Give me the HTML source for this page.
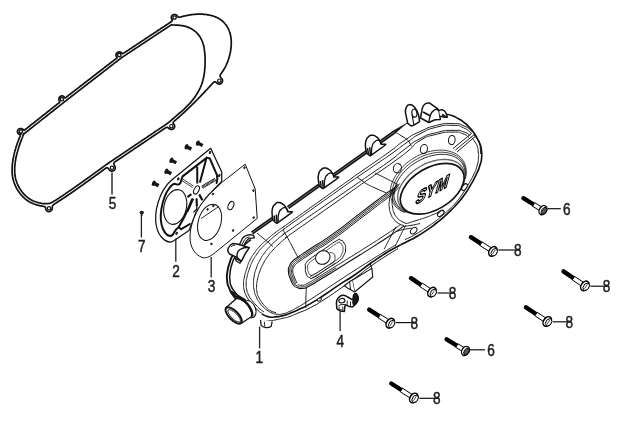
<!DOCTYPE html>
<html><head><meta charset="utf-8"><title>diagram</title>
<style>
html,body{margin:0;padding:0;background:#fff;}
svg{display:block;font-family:"Liberation Sans",sans-serif;filter:grayscale(1);}
</style></head><body>
<svg width="635" height="439" viewBox="0 0 635 439">
<rect width="635" height="439" fill="#fff"/>
<path d="M21.6,132.4 L21.0,132.9 L20.5,133.3 L20.1,133.6 L19.7,133.9 L19.5,134.0 L19.3,134.1 L19.1,134.2 L18.9,134.1 L18.7,134.0 L18.5,133.8 L18.3,133.6 L18.3,133.6 L17.9,133.1 L17.6,132.5 L17.4,131.9 L17.4,131.2 L17.6,130.6 L17.9,130.1 L18.3,129.6 L18.8,129.1 L19.4,128.8 L20.1,128.6 L20.8,128.6 L21.5,128.7 L22.2,128.9 L22.8,129.2 L23.3,129.6 L23.3,129.6 L23.5,129.9 L23.7,130.0 L23.9,130.2 L24.1,130.2 L24.2,130.2 L24.4,130.2 L24.6,130.1 L24.8,129.9 L25.1,129.6 L25.5,129.3 L25.9,129.0 L26.3,128.7 L26.7,128.4 L27.1,128.1 L27.5,127.7 L27.9,127.4 L28.3,127.1 L28.7,126.8 L29.1,126.5 L29.5,126.2 L29.9,125.9 L30.2,125.6 L30.6,125.3 L31.0,124.9 L31.4,124.6 L31.8,124.3 L32.2,124.0 L32.6,123.7 L33.0,123.4 L33.4,123.1 L33.8,122.8 L34.2,122.5 L34.6,122.2 L35.0,121.8 L35.4,121.5 L35.7,121.2 L36.1,120.9 L36.5,120.6 L36.9,120.3 L37.3,120.0 L37.7,119.7 L38.1,119.4 L38.5,119.1 L38.9,118.7 L39.3,118.4 L39.7,118.1 L40.1,117.8 L40.5,117.5 L40.9,117.2 L41.2,116.9 L41.6,116.6 L42.0,116.3 L42.4,115.9 L42.8,115.6 L43.2,115.3 L43.6,115.0 L44.0,114.7 L44.4,114.4 L44.8,114.1 L45.2,113.8 L45.6,113.5 L46.0,113.2 L46.4,112.8 L46.7,112.5 L47.1,112.2 L47.5,111.9 L47.9,111.6 L48.3,111.3 L48.7,111.0 L49.1,110.7 L49.5,110.4 L49.9,110.0 L50.3,109.7 L50.7,109.4 L51.1,109.1 L51.5,108.8 L51.9,108.5 L52.2,108.2 L52.6,107.9 L53.0,107.6 L53.4,107.3 L53.8,106.9 L54.2,106.6 L54.6,106.3 L55.0,106.0 L55.4,105.7 L55.8,105.4 L56.2,105.1 L56.6,104.8 L57.0,104.5 L57.4,104.1 L57.7,103.8 L58.1,103.5 L58.6,103.2 L59.0,102.9 L59.3,102.7 L59.5,102.5 L59.6,102.3 L59.7,102.2 L59.8,102.0 L59.8,101.9 L59.7,101.7 L59.6,101.5 L59.4,101.2 L59.4,101.2 L59.1,100.6 L58.9,99.9 L58.9,99.2 L59.0,98.5 L59.2,97.8 L59.5,97.2 L60.0,96.7 L60.5,96.3 L61.1,96.0 L61.7,95.8 L62.3,95.9 L63.0,96.0 L63.5,96.3 L64.0,96.7 L64.4,97.2 L64.4,97.2 L64.6,97.5 L64.7,97.7 L64.9,97.9 L65.0,97.9 L65.1,98.0 L65.3,97.9 L65.5,97.8 L65.7,97.6 L66.0,97.4 L66.4,97.1 L66.8,96.7 L67.2,96.4 L67.6,96.1 L68.0,95.8 L68.4,95.5 L68.8,95.2 L69.2,94.9 L69.6,94.6 L70.0,94.3 L70.4,94.0 L70.8,93.7 L71.2,93.4 L71.6,93.1 L72.0,92.8 L72.4,92.5 L72.8,92.1 L73.2,91.8 L73.5,91.5 L73.9,91.2 L74.3,90.9 L74.7,90.6 L75.1,90.3 L75.5,90.0 L75.9,89.7 L76.3,89.4 L76.7,89.1 L77.1,88.8 L77.5,88.5 L77.9,88.2 L78.3,87.9 L78.7,87.5 L79.1,87.2 L79.5,86.9 L79.9,86.6 L80.3,86.3 L80.7,86.0 L81.1,85.7 L81.5,85.4 L81.9,85.1 L82.3,84.8 L82.7,84.5 L83.1,84.2 L83.4,83.9 L83.8,83.6 L84.2,83.3 L84.6,83.0 L85.0,82.6 L85.4,82.3 L85.8,82.0 L86.2,81.7 L86.6,81.4 L87.0,81.1 L87.4,80.8 L87.8,80.5 L88.2,80.2 L88.6,79.9 L89.0,79.6 L89.4,79.3 L89.8,79.0 L90.2,78.7 L90.6,78.4 L91.0,78.1 L91.4,77.7 L91.8,77.4 L92.2,77.1 L92.6,76.8 L93.0,76.5 L93.4,76.2 L93.7,75.9 L94.1,75.6 L94.5,75.3 L94.9,75.0 L95.3,74.7 L95.7,74.4 L96.1,74.1 L96.5,73.8 L96.9,73.5 L97.3,73.1 L97.7,72.8 L98.1,72.5 L98.5,72.2 L98.9,71.9 L99.3,71.6 L99.7,71.3 L100.1,71.0 L100.5,70.7 L100.9,70.4 L101.3,70.1 L101.7,69.8 L102.1,69.5 L102.5,69.2 L102.9,68.9 L103.3,68.6 L103.6,68.2 L104.0,67.9 L104.4,67.6 L104.8,67.3 L105.2,67.0 L105.6,66.7 L106.0,66.4 L106.4,66.1 L106.8,65.8 L107.2,65.5 L107.6,65.2 L108.0,64.9 L108.4,64.6 L108.8,64.3 L109.2,64.0 L109.6,63.7 L110.0,63.3 L110.4,63.0 L110.8,62.7 L111.2,62.4 L111.6,62.1 L112.0,61.8 L112.4,61.5 L112.8,61.2 L113.2,60.9 L113.6,60.6 L113.9,60.3 L114.3,60.0 L114.7,59.7 L115.1,59.4 L115.5,59.1 L116.0,58.7 L116.4,58.4 L116.7,58.2 L116.9,58.0 L117.0,57.8 L117.1,57.7 L117.2,57.6 L117.1,57.5 L117.1,57.3 L116.9,57.1 L116.7,56.9 L116.7,56.9 L116.3,56.3 L116.1,55.7 L116.0,55.1 L116.0,54.5 L116.2,53.8 L116.5,53.3 L117.0,52.8 L117.5,52.4 L118.1,52.1 L118.8,52.0 L119.5,51.9 L120.2,52.0 L120.8,52.3 L121.4,52.6 L121.9,53.1 L121.9,53.1 L122.1,53.3 L122.2,53.5 L122.4,53.6 L122.5,53.7 L122.7,53.7 L122.8,53.6 L123.0,53.5 L123.3,53.4 L123.6,53.2 L124.0,52.9 L124.5,52.6 L124.9,52.4 L125.3,52.1 L125.7,51.8 L126.1,51.5 L126.6,51.3 L127.0,51.0 L127.4,50.7 L127.8,50.4 L128.2,50.2 L128.7,49.9 L129.1,49.6 L129.5,49.3 L129.9,49.0 L130.3,48.8 L130.7,48.5 L131.2,48.2 L131.6,47.9 L132.0,47.7 L132.4,47.4 L132.8,47.1 L133.2,46.8 L133.7,46.6 L134.1,46.3 L134.5,46.0 L134.9,45.7 L135.3,45.5 L135.8,45.2 L136.2,44.9 L136.6,44.6 L137.0,44.4 L137.4,44.1 L137.8,43.8 L138.3,43.5 L138.7,43.3 L139.1,43.0 L139.5,42.7 L139.9,42.4 L140.3,42.1 L140.8,41.9 L141.2,41.6 L141.6,41.3 L142.0,41.0 L142.4,40.8 L142.9,40.5 L143.3,40.2 L143.7,39.9 L144.1,39.7 L144.5,39.4 L144.9,39.1 L145.4,38.8 L145.8,38.6 L146.2,38.3 L146.6,38.0 L147.0,37.7 L147.4,37.5 L147.9,37.2 L148.3,36.9 L148.7,36.6 L149.1,36.3 L149.5,36.1 L150.0,35.8 L150.4,35.5 L150.8,35.2 L151.2,35.0 L151.6,34.7 L152.0,34.4 L152.5,34.1 L152.9,33.9 L153.3,33.6 L153.7,33.3 L154.1,33.0 L154.6,32.8 L155.0,32.5 L155.4,32.2 L155.8,31.9 L156.2,31.7 L156.6,31.4 L157.1,31.1 L157.5,30.8 L157.9,30.5 L158.3,30.3 L158.7,30.0 L159.1,29.7 L159.6,29.4 L160.0,29.2 L160.4,28.9 L160.8,28.6 L161.2,28.3 L161.7,28.1 L162.1,27.8 L162.5,27.5 L162.9,27.2 L163.3,27.0 L163.7,26.7 L164.2,26.4 L164.6,26.1 L165.0,25.9 L165.4,25.6 L165.8,25.3 L166.2,25.0 L166.7,24.7 L167.1,24.5 L167.5,24.2 L167.9,23.9 L168.3,23.6 L168.8,23.4 L169.2,23.1 L169.6,22.8 L170.0,22.5 L170.4,22.2 L170.8,21.9 L171.3,21.6 L171.6,21.3 L171.9,21.0 L172.1,20.8 L172.3,20.6 L172.3,20.4 L172.3,20.2 L172.3,20.0 L172.2,19.7 L172.0,19.5 L171.8,19.1 L171.8,19.1 L171.5,18.5 L171.3,17.9 L171.3,17.2 L171.5,16.6 L171.7,16.0 L172.1,15.5 L172.6,15.0 L173.2,14.7 L173.9,14.5 L174.6,14.5 L175.2,14.6 L175.9,14.8 L176.5,15.1 L177.0,15.6 L177.4,16.1 L177.4,16.1 L177.6,16.4 L177.8,16.7 L178.0,16.9 L178.2,17.1 L178.3,17.2 L178.6,17.3 L178.8,17.3 L179.1,17.3 L179.5,17.2 L180.0,17.1 L180.6,17.0 L181.1,16.9 L181.5,16.7 L182.0,16.6 L182.5,16.5 L183.0,16.3 L183.5,16.2 L184.0,16.1 L184.5,16.0 L184.9,15.9 L185.4,15.8 L185.9,15.7 L186.4,15.6 L186.9,15.5 L187.4,15.4 L187.9,15.3 L188.4,15.2 L188.9,15.1 L189.4,15.0 L189.9,14.9 L190.4,14.9 L190.8,14.8 L191.3,14.7 L191.8,14.7 L192.3,14.6 L192.8,14.5 L193.3,14.5 L193.8,14.4 L194.3,14.4 L194.8,14.3 L195.3,14.3 L195.8,14.3 L196.3,14.2 L196.8,14.2 L197.3,14.2 L197.8,14.2 L198.3,14.2 L198.8,14.2 L199.3,14.1 L199.8,14.1 L200.3,14.2 L200.8,14.2 L201.3,14.2 L201.8,14.2 L202.3,14.2 L202.8,14.2 L203.3,14.3 L203.8,14.3 L204.3,14.3 L204.8,14.4 L205.3,14.4 L205.8,14.5 L206.3,14.6 L206.8,14.6 L207.3,14.7 L207.8,14.8 L208.3,14.9 L208.8,15.0 L209.3,15.1 L209.8,15.2 L210.3,15.3 L210.8,15.4 L211.2,15.5 L211.7,15.6 L212.2,15.8 L212.7,15.9 L213.2,16.0 L213.6,16.2 L214.1,16.4 L214.6,16.5 L215.1,16.7 L215.5,16.9 L216.0,17.1 L216.5,17.3 L216.9,17.5 L217.4,17.7 L217.8,17.9 L218.2,18.2 L218.7,18.4 L219.1,18.7 L219.5,18.9 L219.9,19.2 L220.4,19.5 L220.8,19.8 L221.2,20.1 L221.6,20.4 L222.0,20.7 L222.3,21.0 L222.7,21.3 L223.1,21.7 L223.5,22.0 L223.8,22.4 L224.2,22.7 L224.5,23.1 L224.8,23.5 L225.2,23.9 L225.5,24.3 L225.8,24.6 L226.1,25.0 L226.4,25.5 L226.7,25.9 L226.9,26.3 L227.2,26.7 L227.4,27.1 L227.7,27.6 L227.9,28.0 L228.2,28.5 L228.4,28.9 L228.6,29.4 L228.8,29.8 L229.0,30.3 L229.2,30.7 L229.4,31.2 L229.5,31.7 L229.7,32.2 L229.8,32.6 L230.0,33.1 L230.1,33.6 L230.2,34.1 L230.4,34.6 L230.5,35.1 L230.6,35.6 L230.7,36.0 L230.8,36.5 L230.8,37.0 L230.9,37.5 L231.0,38.0 L231.0,38.5 L231.1,39.0 L231.1,39.5 L231.2,40.0 L231.2,40.5 L231.2,41.0 L231.3,41.5 L231.3,42.0 L231.3,42.5 L231.3,43.0 L231.3,43.5 L231.3,44.0 L231.2,44.5 L231.2,45.0 L231.2,45.5 L231.2,46.0 L231.1,46.5 L231.1,47.0 L231.0,47.5 L231.0,48.0 L230.9,48.5 L230.9,49.0 L230.8,49.5 L230.7,50.0 L230.6,50.5 L230.6,51.0 L230.5,51.5 L230.4,52.0 L230.3,52.5 L230.2,53.0 L230.1,53.4 L230.0,53.9 L229.9,54.4 L229.7,54.9 L229.6,55.4 L229.5,55.9 L229.4,56.4 L229.2,56.8 L229.1,57.3 L229.0,57.8 L228.8,58.3 L228.7,58.8 L228.5,59.2 L228.4,59.7 L228.2,60.2 L228.0,60.7 L227.9,61.1 L227.7,61.6 L227.5,62.1 L227.3,62.5 L227.1,63.0 L226.9,63.5 L226.7,63.9 L226.5,64.4 L226.3,64.8 L226.1,65.3 L225.9,65.7 L225.7,66.2 L225.4,66.6 L225.2,67.1 L225.0,67.5 L224.7,68.0 L224.5,68.4 L224.2,68.8 L224.0,69.3 L223.7,69.7 L223.5,70.1 L223.2,70.5 L222.9,71.0 L222.7,71.4 L222.4,71.8 L222.1,72.2 L221.8,72.6 L221.5,73.0 L221.2,73.4 L220.8,74.0 L220.5,74.5 L220.3,75.0 L220.2,75.4 L220.1,75.9 L220.2,76.2 L220.3,76.6 L220.5,77.0 L220.8,77.4 L221.1,77.8 L221.5,78.3 L221.5,78.3 L222.0,78.8 L222.3,79.4 L222.5,80.1 L222.5,80.8 L222.4,81.5 L222.2,82.2 L221.8,82.8 L221.4,83.3 L220.8,83.7 L220.2,83.9 L219.5,84.1 L218.9,84.0 L218.2,83.9 L217.6,83.6 L217.1,83.1 L217.1,83.1 L216.6,82.7 L216.2,82.4 L215.8,82.1 L215.5,81.9 L215.1,81.8 L214.8,81.8 L214.4,81.9 L214.0,82.1 L213.6,82.4 L213.2,82.7 L212.7,83.3 L212.3,83.6 L212.0,84.0 L211.7,84.4 L211.3,84.7 L211.0,85.1 L210.7,85.5 L210.3,85.8 L210.0,86.2 L209.6,86.6 L209.3,86.9 L209.0,87.3 L208.6,87.7 L208.3,88.0 L207.9,88.4 L207.6,88.8 L207.3,89.1 L206.9,89.5 L206.6,89.9 L206.2,90.2 L205.9,90.6 L205.5,91.0 L205.2,91.3 L204.9,91.7 L204.5,92.1 L204.2,92.4 L203.8,92.8 L203.5,93.2 L203.1,93.5 L202.8,93.9 L202.4,94.2 L202.1,94.6 L201.8,95.0 L201.4,95.3 L201.1,95.7 L200.7,96.1 L200.4,96.4 L200.0,96.8 L199.7,97.1 L199.3,97.5 L199.0,97.8 L198.6,98.2 L198.3,98.6 L197.9,98.9 L197.6,99.3 L197.2,99.6 L196.9,100.0 L196.5,100.4 L196.2,100.7 L195.8,101.1 L195.5,101.4 L195.1,101.8 L194.7,102.1 L194.4,102.5 L194.0,102.8 L193.7,103.2 L193.3,103.5 L193.0,103.9 L192.6,104.2 L192.3,104.6 L191.9,104.9 L191.5,105.3 L191.2,105.6 L190.8,106.0 L190.5,106.3 L190.1,106.7 L189.7,107.0 L189.4,107.4 L189.0,107.7 L188.7,108.1 L188.3,108.4 L187.9,108.8 L187.6,109.1 L187.2,109.5 L186.8,109.8 L186.5,110.1 L186.1,110.5 L185.8,110.8 L185.4,111.2 L185.0,111.5 L184.7,111.9 L184.3,112.2 L183.9,112.5 L183.6,112.9 L183.2,113.2 L182.8,113.6 L182.4,113.9 L182.1,114.2 L181.7,114.6 L181.3,114.9 L181.0,115.2 L180.6,115.6 L180.2,115.9 L179.8,116.2 L179.5,116.6 L179.1,116.9 L178.7,117.2 L178.3,117.6 L178.0,117.9 L177.6,118.2 L177.2,118.6 L176.8,118.9 L176.5,119.2 L176.1,119.5 L175.7,119.9 L175.3,120.2 L174.9,120.5 L174.4,121.0 L174.0,121.4 L173.6,121.7 L173.4,122.1 L173.2,122.4 L173.1,122.6 L173.1,122.9 L173.2,123.2 L173.3,123.5 L173.6,123.8 L173.9,124.1 L173.9,124.1 L174.3,124.7 L174.5,125.3 L174.7,125.9 L174.6,126.6 L174.5,127.3 L174.2,127.9 L173.8,128.4 L173.2,128.9 L172.6,129.2 L171.9,129.4 L171.2,129.4 L170.5,129.3 L169.9,129.1 L169.3,128.8 L168.7,128.3 L168.7,128.3 L168.4,128.0 L168.1,127.7 L167.9,127.5 L167.6,127.4 L167.3,127.4 L167.0,127.4 L166.6,127.5 L166.2,127.6 L165.8,127.8 L165.2,128.1 L164.6,128.4 L164.2,128.7 L163.8,129.0 L163.4,129.3 L163.0,129.6 L162.6,129.8 L162.1,130.1 L161.7,130.4 L161.3,130.7 L160.9,131.0 L160.5,131.2 L160.1,131.5 L159.6,131.8 L159.2,132.1 L158.8,132.4 L158.4,132.6 L158.0,132.9 L157.6,133.2 L157.2,133.5 L156.7,133.8 L156.3,134.0 L155.9,134.3 L155.5,134.6 L155.1,134.9 L154.7,135.2 L154.2,135.4 L153.8,135.7 L153.4,136.0 L153.0,136.3 L152.6,136.5 L152.2,136.8 L151.8,137.1 L151.3,137.4 L150.9,137.7 L150.5,137.9 L150.1,138.2 L149.7,138.5 L149.3,138.8 L148.8,139.1 L148.4,139.3 L148.0,139.6 L147.6,139.9 L147.2,140.2 L146.8,140.5 L146.3,140.7 L145.9,141.0 L145.5,141.3 L145.1,141.6 L144.7,141.9 L144.3,142.1 L143.9,142.4 L143.4,142.7 L143.0,143.0 L142.6,143.3 L142.2,143.5 L141.8,143.8 L141.4,144.1 L140.9,144.4 L140.5,144.7 L140.1,144.9 L139.7,145.2 L139.3,145.5 L138.9,145.8 L138.5,146.1 L138.0,146.3 L137.6,146.6 L137.2,146.9 L136.8,147.2 L136.4,147.4 L136.0,147.7 L135.5,148.0 L135.1,148.3 L134.7,148.6 L134.3,148.8 L133.9,149.1 L133.5,149.4 L133.1,149.7 L132.6,150.0 L132.2,150.2 L131.8,150.5 L131.4,150.8 L131.0,151.1 L130.6,151.4 L130.1,151.6 L129.7,151.9 L129.3,152.2 L128.9,152.5 L128.5,152.8 L128.1,153.0 L127.7,153.3 L127.2,153.6 L126.8,153.9 L126.4,154.2 L126.0,154.4 L125.6,154.7 L125.2,155.0 L124.7,155.3 L124.3,155.6 L123.9,155.8 L123.5,156.1 L123.1,156.4 L122.7,156.7 L122.3,157.0 L121.8,157.2 L121.4,157.5 L121.0,157.8 L120.6,158.1 L120.2,158.4 L119.8,158.6 L119.3,158.9 L118.9,159.2 L118.5,159.5 L118.1,159.7 L117.7,160.0 L117.3,160.3 L116.9,160.6 L116.4,160.9 L116.0,161.1 L115.6,161.4 L115.0,161.8 L114.6,162.2 L114.2,162.6 L114.0,162.9 L113.8,163.3 L113.8,163.7 L113.8,164.1 L113.9,164.5 L114.1,164.9 L114.4,165.4 L114.7,165.9 L114.7,165.9 L115.0,166.6 L115.2,167.2 L115.3,167.9 L115.2,168.6 L114.9,169.3 L114.6,169.9 L114.1,170.4 L113.5,170.7 L112.9,171.0 L112.2,171.1 L111.5,171.1 L110.9,170.9 L110.2,170.6 L109.7,170.2 L109.3,169.7 L109.3,169.7 L108.9,169.1 L108.6,168.7 L108.3,168.4 L107.9,168.1 L107.6,167.9 L107.2,167.8 L106.9,167.8 L106.4,167.9 L106.0,168.1 L105.5,168.4 L104.9,168.9 L104.5,169.1 L104.1,169.4 L103.7,169.7 L103.3,170.0 L102.9,170.3 L102.5,170.6 L102.1,170.9 L101.7,171.2 L101.3,171.5 L100.9,171.8 L100.4,172.1 L100.0,172.4 L99.6,172.7 L99.2,173.0 L98.8,173.2 L98.4,173.5 L98.0,173.8 L97.6,174.1 L97.2,174.4 L96.8,174.7 L96.4,175.0 L96.0,175.3 L95.6,175.6 L95.2,175.9 L94.8,176.2 L94.4,176.5 L94.0,176.8 L93.5,177.1 L93.1,177.4 L92.7,177.6 L92.3,177.9 L91.9,178.2 L91.5,178.5 L91.1,178.8 L90.7,179.1 L90.3,179.4 L89.9,179.7 L89.5,180.0 L89.1,180.3 L88.7,180.6 L88.3,180.9 L87.9,181.2 L87.5,181.5 L87.0,181.7 L86.6,182.0 L86.2,182.3 L85.8,182.6 L85.4,182.9 L85.0,183.2 L84.6,183.5 L84.2,183.8 L83.8,184.1 L83.4,184.4 L83.0,184.7 L82.6,185.0 L82.2,185.2 L81.8,185.5 L81.3,185.8 L80.9,186.1 L80.5,186.4 L80.1,186.7 L79.7,187.0 L79.3,187.3 L78.9,187.6 L78.5,187.9 L78.1,188.1 L77.7,188.4 L77.3,188.7 L76.9,189.0 L76.4,189.3 L76.0,189.6 L75.6,189.9 L75.2,190.2 L74.8,190.4 L74.4,190.7 L74.0,191.0 L73.6,191.3 L73.2,191.6 L72.7,191.9 L72.3,192.2 L71.9,192.4 L71.5,192.7 L71.1,193.0 L70.7,193.3 L70.3,193.6 L69.9,193.9 L69.5,194.2 L69.0,194.4 L68.6,194.7 L68.2,195.0 L67.8,195.3 L67.4,195.6 L67.0,195.8 L66.6,196.1 L66.1,196.4 L65.7,196.7 L65.3,197.0 L64.9,197.2 L64.5,197.5 L64.1,197.8 L63.6,198.1 L63.2,198.3 L62.8,198.6 L62.4,198.9 L62.0,199.2 L61.5,199.4 L61.1,199.7 L60.7,200.0 L60.3,200.3 L59.9,200.5 L59.4,200.8 L59.0,201.1 L58.6,201.3 L58.2,201.6 L57.8,201.9 L57.3,202.1 L56.9,202.4 L56.5,202.7 L56.1,202.9 L55.6,203.2 L55.2,203.5 L54.8,203.7 L54.2,204.2 L53.7,204.6 L53.3,205.0 L53.0,205.3 L52.7,205.6 L52.5,205.9 L52.4,206.3 L52.3,206.6 L52.2,207.0 L52.2,207.4 L52.3,207.9 L52.3,207.9 L52.3,208.6 L52.1,209.2 L51.8,209.9 L51.4,210.4 L50.9,210.9 L50.3,211.3 L49.6,211.5 L48.9,211.6 L48.3,211.6 L47.6,211.4 L47.0,211.0 L46.5,210.6 L46.1,210.0 L45.9,209.4 L45.7,208.7 L45.7,208.7 L45.7,208.3 L45.6,207.9 L45.5,207.5 L45.3,207.2 L45.1,207.0 L44.9,206.8 L44.5,206.6 L44.1,206.5 L43.6,206.4 L43.0,206.2 L42.3,206.1 L41.8,206.0 L41.3,205.9 L40.8,205.9 L40.3,205.8 L39.9,205.7 L39.4,205.6 L38.9,205.5 L38.4,205.3 L37.9,205.2 L37.4,205.1 L36.9,205.0 L36.5,204.8 L36.0,204.7 L35.5,204.5 L35.0,204.3 L34.6,204.2 L34.1,204.0 L33.6,203.8 L33.2,203.6 L32.7,203.4 L32.2,203.2 L31.8,203.0 L31.3,202.8 L30.9,202.6 L30.4,202.4 L30.0,202.2 L29.5,201.9 L29.1,201.7 L28.7,201.4 L28.3,201.1 L27.8,200.9 L27.4,200.6 L27.0,200.3 L26.6,200.0 L26.2,199.7 L25.8,199.4 L25.4,199.1 L25.1,198.7 L24.7,198.4 L24.3,198.1 L23.9,197.7 L23.6,197.4 L23.2,197.0 L22.8,196.7 L22.5,196.3 L22.2,196.0 L21.8,195.6 L21.5,195.2 L21.1,194.9 L20.8,194.5 L20.5,194.1 L20.2,193.7 L19.9,193.3 L19.6,192.9 L19.3,192.5 L19.0,192.1 L18.7,191.7 L18.4,191.3 L18.1,190.9 L17.9,190.4 L17.6,190.0 L17.3,189.6 L17.1,189.2 L16.8,188.7 L16.6,188.3 L16.4,187.8 L16.1,187.4 L15.9,187.0 L15.7,186.5 L15.5,186.0 L15.3,185.6 L15.1,185.1 L14.9,184.7 L14.7,184.2 L14.5,183.7 L14.3,183.3 L14.2,182.8 L14.0,182.3 L13.8,181.8 L13.7,181.4 L13.6,180.9 L13.4,180.4 L13.3,179.9 L13.2,179.4 L13.0,179.0 L12.9,178.5 L12.8,178.0 L12.7,177.5 L12.6,177.0 L12.6,176.5 L12.5,176.0 L12.4,175.5 L12.3,175.0 L12.3,174.5 L12.2,174.0 L12.2,173.5 L12.2,173.0 L12.1,172.5 L12.1,172.0 L12.1,171.5 L12.1,171.0 L12.1,170.5 L12.1,170.0 L12.1,169.5 L12.1,169.0 L12.1,168.5 L12.1,168.0 L12.2,167.5 L12.2,167.0 L12.2,166.5 L12.2,166.0 L12.3,165.5 L12.3,165.0 L12.4,164.5 L12.4,164.0 L12.5,163.5 L12.5,163.0 L12.6,162.5 L12.6,162.0 L12.7,161.5 L12.8,161.0 L12.9,160.5 L12.9,160.0 L13.0,159.6 L13.1,159.1 L13.2,158.6 L13.3,158.1 L13.4,157.6 L13.5,157.1 L13.6,156.6 L13.7,156.1 L13.8,155.6 L13.9,155.1 L14.0,154.6 L14.1,154.2 L14.2,153.7 L14.4,153.2 L14.5,152.7 L14.6,152.2 L14.7,151.7 L14.9,151.2 L15.0,150.8 L15.1,150.3 L15.3,149.8 L15.4,149.3 L15.6,148.8 L15.7,148.4 L15.8,147.9 L16.0,147.4 L16.1,146.9 L16.3,146.4 L16.4,146.0 L16.6,145.5 L16.8,145.0 L16.9,144.5 L17.1,144.1 L17.2,143.6 L17.4,143.1 L17.6,142.7 L17.7,142.2 L17.9,141.7 L18.1,141.2 L18.3,140.8 L18.4,140.3 L18.6,139.8 L18.8,139.4 L19.0,138.9 L19.2,138.4 L19.3,138.0 L19.5,137.5 L19.7,137.0 L19.9,136.6 L20.1,136.1 L20.3,135.6 L20.4,135.2 L20.6,134.7 L20.8,134.2 L21.0,133.8 L21.2,133.3 L21.4,132.9 L21.6,132.4 Z" fill="none" stroke="#111" stroke-width="1.7" stroke-linejoin="round"/>
<path d="M23.2,134.4 L23.8,134.0 L24.3,133.6 L24.9,133.1 L25.4,132.7 L26.0,132.3 L26.5,131.8 L27.1,131.4 L27.6,131.0 L28.2,130.5 L28.7,130.1 L29.3,129.7 L29.8,129.2 L30.4,128.8 L30.9,128.4 L31.5,127.9 L32.0,127.5 L32.6,127.1 L33.1,126.6 L33.7,126.2 L34.2,125.7 L34.8,125.3 L35.3,124.9 L35.9,124.4 L36.4,124.0 L37.0,123.6 L37.5,123.1 L38.1,122.7 L38.6,122.3 L39.2,121.8 L39.7,121.4 L40.3,121.0 L40.8,120.5 L41.4,120.1 L41.9,119.7 L42.5,119.2 L43.0,118.8 L43.6,118.4 L44.1,117.9 L44.7,117.5 L45.2,117.1 L45.8,116.6 L46.3,116.2 L46.9,115.8 L47.4,115.3 L48.0,114.9 L48.5,114.4 L49.1,114.0 L49.6,113.6 L50.2,113.1 L50.7,112.7 L51.3,112.3 L51.8,111.8 L52.4,111.4 L52.9,111.0 L53.5,110.5 L54.0,110.1 L54.6,109.7 L55.1,109.2 L55.7,108.8 L56.2,108.4 L56.8,107.9 L57.3,107.5 L57.9,107.1 L58.4,106.6 L59.0,106.2 L59.5,105.8 L60.1,105.3 L60.6,104.9 L61.2,104.5 L61.7,104.0 L62.3,103.6 L62.8,103.1 L63.4,102.7 L63.9,102.3 L64.5,101.8 L65.0,101.4 L65.6,101.0 L66.1,100.6 L66.7,100.1 L67.2,99.7 L67.8,99.3 L68.3,98.8 L68.9,98.4 L69.5,98.0 L70.0,97.6 L70.6,97.1 L71.1,96.7 L71.7,96.3 L72.2,95.8 L72.8,95.4 L73.3,95.0 L73.9,94.6 L74.4,94.1 L75.0,93.7 L75.6,93.3 L76.1,92.8 L76.7,92.4 L77.2,92.0 L77.8,91.6 L78.3,91.1 L78.9,90.7 L79.4,90.3 L80.0,89.8 L80.5,89.4 L81.1,89.0 L81.6,88.6 L82.2,88.1 L82.8,87.7 L83.3,87.3 L83.9,86.8 L84.4,86.4 L85.0,86.0 L85.5,85.5 L86.1,85.1 L86.6,84.7 L87.2,84.3 L87.7,83.8 L88.3,83.4 L88.9,83.0 L89.4,82.5 L90.0,82.1 L90.5,81.7 L91.1,81.3 L91.6,80.8 L92.2,80.4 L92.7,80.0 L93.3,79.5 L93.8,79.1 L94.4,78.7 L95.0,78.3 L95.5,77.8 L96.1,77.4 L96.6,77.0 L97.2,76.5 L97.7,76.1 L98.3,75.7 L98.8,75.3 L99.4,74.8 L99.9,74.4 L100.5,74.0 L101.1,73.5 L101.6,73.1 L102.2,72.7 L102.7,72.3 L103.3,71.8 L103.8,71.4 L104.4,71.0 L104.9,70.5 L105.5,70.1 L106.0,69.7 L106.6,69.3 L107.2,68.8 L107.7,68.4 L108.3,68.0 L108.8,67.5 L109.4,67.1 L109.9,66.7 L110.5,66.3 L111.0,65.8 L111.6,65.4 L112.1,65.0 L112.7,64.5 L113.3,64.1 L113.8,63.7 L114.4,63.2 L114.9,62.8 L115.5,62.4 L116.0,62.0 L116.6,61.5 L117.1,61.1 L117.7,60.7 L118.2,60.2 L118.8,59.8 L119.4,59.4 L119.9,59.0 L120.5,58.5 L121.0,58.1 L121.6,57.7 L122.2,57.3 L122.7,56.9 L123.3,56.5 L123.9,56.1 L124.5,55.7 L125.1,55.4 L125.7,55.0 L126.3,54.6 L126.8,54.2 L127.4,53.8 L128.0,53.4 L128.6,53.0 L129.2,52.7 L129.8,52.3 L130.3,51.9 L130.9,51.5 L131.5,51.1 L132.1,50.7 L132.7,50.3 L133.3,49.9 L133.9,49.6 L134.4,49.2 L135.0,48.8 L135.6,48.4 L136.2,48.0 L136.8,47.6 L137.4,47.2 L137.9,46.9 L138.5,46.5 L139.1,46.1 L139.7,45.7 L140.3,45.3 L140.9,44.9 L141.5,44.5 L142.0,44.1 L142.6,43.8 L143.2,43.4 L143.8,43.0 L144.4,42.6 L145.0,42.2 L145.5,41.8 L146.1,41.4 L146.7,41.1 L147.3,40.7 L147.9,40.3 L148.5,39.9 L149.1,39.5 L149.6,39.1 L150.2,38.7 L150.8,38.3 L151.4,38.0 L152.0,37.6 L152.6,37.2 L153.1,36.8 L153.7,36.4 L154.3,36.0 L154.9,35.6 L155.5,35.3 L156.1,34.9 L156.7,34.5 L157.2,34.1 L157.8,33.7 L158.4,33.3 L159.0,32.9 L159.6,32.5 L160.2,32.2 L160.7,31.8 L161.3,31.4 L161.9,31.0 L162.5,30.6 L163.1,30.2 L163.7,29.8 L164.3,29.5 L164.8,29.1 L165.4,28.7 L166.0,28.3 L166.6,27.9 L167.2,27.5 L167.8,27.1 L168.3,26.7 L168.9,26.4 L169.5,26.0 L170.1,25.6 L170.7,25.2 L171.2,24.8 L171.9,24.7 L172.6,24.9 L173.3,25.0 L174.0,25.0 L174.7,25.1 L175.4,25.1 L176.1,25.1 L176.8,25.1 L177.5,25.2 L178.2,25.2 L178.8,25.3 L179.5,25.3 L180.2,25.4 L180.9,25.5 L181.6,25.6 L182.3,25.7 L183.0,25.8 L183.7,25.9 L184.4,26.1 L185.1,26.3 L185.7,26.4 L186.4,26.6 L187.1,26.9 L187.7,27.1 L188.4,27.4 L189.0,27.6 L189.7,27.9 L190.3,28.2 L190.9,28.5 L191.5,28.9 L192.2,29.2 L192.7,29.6 L193.3,30.0 L193.9,30.4 L194.5,30.8 L195.0,31.3 L195.5,31.7 L196.1,32.2 L196.6,32.7 L197.1,33.2 L197.5,33.7 L198.0,34.2 L198.4,34.8 L198.9,35.3 L199.3,35.9 L199.7,36.4 L200.1,37.0 L200.4,37.6 L200.8,38.2 L201.1,38.9 L201.4,39.5 L201.8,40.1 L202.0,40.8 L202.3,41.4 L202.6,42.1 L202.8,42.7 L203.0,43.4 L203.2,44.1 L203.4,44.7 L203.6,45.4 L203.7,46.1 L203.9,46.8 L204.0,47.5 L204.1,48.2 L204.2,48.8 L204.4,49.5 L204.4,50.2 L204.5,50.9 L204.6,51.6 L204.7,52.3 L204.8,53.0 L204.8,53.7 L204.9,54.4 L204.9,55.1 L205.0,55.8 L205.0,56.5 L205.1,57.2 L205.1,57.9 L205.1,58.6 L205.1,59.3 L205.1,60.0 L205.1,60.7 L205.1,61.4 L205.1,62.1 L205.1,62.8 L205.1,63.5 L205.1,64.2 L205.0,64.9 L205.0,65.6 L205.0,66.3 L204.9,67.0 L204.9,67.7 L204.8,68.4 L204.8,69.1 L204.7,69.8 L204.6,70.5 L204.6,71.2 L204.5,71.9 L204.4,72.6 L204.3,73.3 L204.2,74.0 L204.1,74.7 L204.0,75.4 L203.9,76.1 L203.7,76.8 L203.6,77.4 L203.4,78.1 L203.3,78.8 L203.1,79.5 L203.0,80.2 L202.8,80.8 L202.6,81.5 L202.4,82.2 L202.2,82.9 L201.9,83.5 L201.7,84.2 L201.5,84.8 L201.2,85.5 L200.9,86.1 L200.7,86.8 L200.4,87.4 L200.1,88.1 L199.8,88.7 L199.5,89.3 L199.2,90.0 L198.8,90.6 L198.5,91.2 L198.2,91.8 L197.8,92.4 L197.5,93.0 L197.1,93.6 L196.7,94.2 L196.4,94.8 L196.0,95.4 L195.6,96.0 L195.2,96.6 L194.8,97.1 L194.4,97.7 L194.0,98.3 L193.5,98.8 L193.1,99.4 L192.7,99.9 L192.2,100.5 L191.8,101.0 L191.4,101.6 L190.9,102.1 L190.5,102.6 L190.0,103.2 L189.5,103.7 L189.1,104.2 L188.6,104.7 L188.1,105.2 L187.6,105.7 L187.1,106.2 L186.6,106.7 L186.1,107.2 L185.6,107.7 L185.1,108.2 L184.6,108.7 L184.1,109.2 L183.6,109.6 L183.1,110.1 L182.5,110.6 L182.0,111.0 L181.5,111.5 L180.9,111.9 L180.4,112.4 L179.8,112.8 L179.3,113.2 L178.8,113.7 L178.2,114.2 L177.7,114.6 L177.2,115.1 L176.7,115.6 L176.1,116.0 L175.6,116.5 L175.1,117.0 L174.6,117.4 L174.0,117.9 L173.5,118.3 L173.0,118.8 L172.4,119.2 L171.9,119.7 L171.4,120.2 L170.8,120.6 L170.3,121.1 L169.8,121.5 L169.2,122.0 L168.7,122.4 L168.1,122.8 L167.6,123.3 L167.0,123.7 L166.4,124.1 L165.9,124.5 L165.3,124.9 L164.7,125.3 L164.1,125.7 L163.5,126.0 L163.0,126.4 L162.4,126.8 L161.8,127.2 L161.2,127.6 L160.6,128.0 L160.0,128.4 L159.5,128.8 L158.9,129.2 L158.3,129.6 L157.7,130.0 L157.1,130.3 L156.6,130.7 L156.0,131.1 L155.4,131.5 L154.8,131.9 L154.2,132.3 L153.6,132.7 L153.1,133.1 L152.5,133.5 L151.9,133.9 L151.3,134.3 L150.7,134.7 L150.2,135.0 L149.6,135.4 L149.0,135.8 L148.4,136.2 L147.8,136.6 L147.3,137.0 L146.7,137.4 L146.1,137.8 L145.5,138.2 L144.9,138.6 L144.3,139.0 L143.8,139.3 L143.2,139.7 L142.6,140.1 L142.0,140.5 L141.4,140.9 L140.9,141.3 L140.3,141.7 L139.7,142.1 L139.1,142.5 L138.5,142.9 L137.9,143.3 L137.4,143.7 L136.8,144.0 L136.2,144.4 L135.6,144.8 L135.0,145.2 L134.5,145.6 L133.9,146.0 L133.3,146.4 L132.7,146.8 L132.1,147.2 L131.5,147.6 L131.0,148.0 L130.4,148.3 L129.8,148.7 L129.2,149.1 L128.6,149.5 L128.1,149.9 L127.5,150.3 L126.9,150.7 L126.3,151.1 L125.7,151.5 L125.2,151.9 L124.6,152.3 L124.0,152.7 L123.4,153.0 L122.8,153.4 L122.2,153.8 L121.7,154.2 L121.1,154.6 L120.5,155.0 L119.9,155.4 L119.3,155.8 L118.8,156.2 L118.2,156.6 L117.6,157.0 L117.0,157.3 L116.4,157.7 L115.8,158.1 L115.3,158.5 L114.7,158.9 L114.1,159.3 L113.5,159.7 L112.9,160.1 L112.4,160.5 L111.8,160.9 L111.2,161.3 L110.6,161.7 L110.0,162.0 L109.4,162.4 L108.9,162.8 L108.3,163.2 L107.7,163.6 L107.2,164.0 L106.6,164.5 L106.0,164.9 L105.4,165.3 L104.9,165.7 L104.3,166.1 L103.7,166.5 L103.2,166.9 L102.6,167.3 L102.0,167.7 L101.5,168.1 L100.9,168.5 L100.3,169.0 L99.8,169.4 L99.2,169.8 L98.6,170.2 L98.1,170.6 L97.5,171.0 L96.9,171.4 L96.3,171.8 L95.8,172.2 L95.2,172.7 L94.6,173.1 L94.1,173.5 L93.5,173.9 L92.9,174.3 L92.4,174.7 L91.8,175.1 L91.2,175.5 L90.7,175.9 L90.1,176.3 L89.5,176.8 L89.0,177.2 L88.4,177.6 L87.8,178.0 L87.3,178.4 L86.7,178.8 L86.1,179.2 L85.5,179.6 L85.0,180.0 L84.4,180.4 L83.8,180.8 L83.3,181.3 L82.7,181.7 L82.1,182.1 L81.6,182.5 L81.0,182.9 L80.4,183.3 L79.8,183.7 L79.3,184.1 L78.7,184.5 L78.1,184.9 L77.6,185.3 L77.0,185.7 L76.4,186.1 L75.8,186.5 L75.3,186.9 L74.7,187.3 L74.1,187.7 L73.5,188.1 L73.0,188.6 L72.4,189.0 L71.8,189.4 L71.2,189.8 L70.7,190.2 L70.1,190.6 L69.5,190.9 L68.9,191.3 L68.4,191.7 L67.8,192.1 L67.2,192.5 L66.6,192.9 L66.0,193.3 L65.5,193.7 L64.9,194.1 L64.3,194.5 L63.7,194.9 L63.1,195.3 L62.6,195.7 L62.0,196.1 L61.4,196.4 L60.8,196.8 L60.2,197.2 L59.6,197.6 L59.0,198.0 L58.5,198.4 L57.9,198.7 L57.3,199.1 L56.7,199.5 L56.1,199.9 L55.5,200.2 L54.9,200.6 L54.3,201.0 L53.7,201.3 L53.1,201.7 L52.5,202.1 L51.9,202.4 L51.3,202.8 L50.7,203.1 L50.0,203.2 L49.3,203.4 L48.6,203.5 L47.9,203.6 L47.2,203.7 L46.5,203.7 L45.8,203.7 L45.1,203.7 L44.4,203.7 L43.7,203.6 L43.0,203.6 L42.3,203.5 L41.6,203.4 L40.9,203.2 L40.3,203.1 L39.6,203.0 L38.9,202.8 L38.2,202.6 L37.5,202.4 L36.9,202.2 L36.2,202.0 L35.5,201.8 L34.9,201.5 L34.2,201.3 L33.6,201.0 L32.9,200.7 L32.3,200.4 L31.7,200.1 L31.0,199.8 L30.4,199.4 L29.9,199.1 L29.3,198.7 L28.7,198.3 L28.1,197.9 L27.6,197.4 L27.0,197.0 L26.5,196.5 L26.0,196.1 L25.5,195.6 L24.9,195.1 L24.5,194.6 L24.0,194.1 L23.5,193.6 L23.0,193.1 L22.6,192.5 L22.1,192.0 L21.7,191.4 L21.3,190.9 L20.9,190.3 L20.5,189.7 L20.1,189.1 L19.7,188.5 L19.4,187.9 L19.0,187.3 L18.7,186.7 L18.4,186.1 L18.1,185.5 L17.8,184.8 L17.5,184.2 L17.2,183.5 L17.0,182.9 L16.7,182.2 L16.5,181.6 L16.3,180.9 L16.1,180.2 L15.9,179.6 L15.7,178.9 L15.5,178.2 L15.4,177.5 L15.3,176.8 L15.1,176.1 L15.0,175.4 L14.9,174.7 L14.9,174.0 L14.8,173.3 L14.7,172.6 L14.7,171.9 L14.7,171.2 L14.7,170.5 L14.7,169.8 L14.7,169.1 L14.7,168.4 L14.7,167.7 L14.8,167.0 L14.8,166.3 L14.9,165.6 L14.9,164.9 L15.0,164.2 L15.1,163.5 L15.2,162.9 L15.3,162.2 L15.3,161.5 L15.5,160.8 L15.6,160.1 L15.7,159.4 L15.8,158.7 L15.9,158.0 L16.1,157.3 L16.2,156.6 L16.4,156.0 L16.5,155.3 L16.7,154.6 L16.9,153.9 L17.0,153.2 L17.2,152.5 L17.4,151.9 L17.6,151.2 L17.8,150.5 L18.0,149.8 L18.2,149.2 L18.4,148.5 L18.6,147.8 L18.8,147.2 L19.0,146.5 L19.2,145.8 L19.5,145.2 L19.7,144.5 L19.9,143.9 L20.2,143.2 L20.4,142.5 L20.6,141.9 L20.9,141.2 L21.1,140.6 L21.4,139.9 L21.6,139.3 L21.9,138.6 L22.1,137.9 L22.4,137.3 L22.7,136.6 L22.9,136.0 L23.2,135.3 L23.5,134.7 L23.7,134.1 L24.0,133.4 Z" fill="none" stroke="#111" stroke-width="1.7" stroke-linejoin="round"/>
<circle cx="20.8" cy="131.6" r="1.7" fill="#fff" stroke="#111" stroke-width="1.4"/>
<circle cx="61.9" cy="99.2" r="1.7" fill="#fff" stroke="#111" stroke-width="1.4"/>
<circle cx="119.3" cy="55.0" r="1.7" fill="#fff" stroke="#111" stroke-width="1.4"/>
<circle cx="174.6" cy="17.6" r="1.7" fill="#fff" stroke="#111" stroke-width="1.4"/>
<circle cx="49" cy="208.3" r="1.7" fill="#fff" stroke="#111" stroke-width="1.2"/>
<circle cx="112" cy="167.8" r="1.7" fill="#fff" stroke="#111" stroke-width="1.2"/>
<circle cx="171.3" cy="126.2" r="1.7" fill="#fff" stroke="#111" stroke-width="1.2"/>
<circle cx="219.3" cy="80.7" r="1.7" fill="#fff" stroke="#111" stroke-width="1.2"/>
<line x1="112.0" y1="172.5" x2="112.0" y2="194.6" stroke="#222" stroke-width="1.4"/>
<text x="0" y="0" transform="translate(112.6,208.7) scale(0.8,1)" text-anchor="middle" font-size="17" fill="#1e1e1e" stroke="#1e1e1e" stroke-width="0.5">5</text>
<path d="M210.7,148.3 L172,179.7 C167,184 163,190 160.6,195.5 C157,204 155.2,214 155.7,221.5 C156.4,229 158.6,234 161.4,237 C164,240 167,242 170.4,242 C172.4,242 174,241 175.6,239.4 L189,230.6 L196,212.3 L205.8,198 L221.7,181.5 L221.7,172 Z" fill="#fff" stroke="#111" stroke-width="1.25" stroke-linejoin="round"/>
<path d="M216.6,183 C217.6,180 217.4,177 216.8,174.6 L209.8,158.5 L206.9,157.6 L182.6,176.4 L181.2,180.4 C180.6,183.6 179.4,184.8 177.6,184.6 L174.4,183.8 C172.4,184.2 171,186 169.4,188 C165.4,193 162.8,201 161.4,209 C160.2,216.5 160.8,224 163,229 C164.8,233 167.4,235.8 170,235.9 C172,236 173.2,234.6 174,232.6 C174.8,230.4 176.6,228.6 178.6,227.2" fill="none" stroke="#111" stroke-width="2.0" stroke-linejoin="round" stroke-linecap="round"/>
<path d="M192,199.4 C190.6,203 189.4,206 187.6,210 C185.4,215 182,221.6 178.6,227.2 L181.2,229.2 L189.9,224" fill="none" stroke="#111" stroke-width="2.0" stroke-linejoin="round" stroke-linecap="round"/>
<ellipse cx="175.2" cy="207.0" rx="11.2" ry="17.6" transform="rotate(12.5 175.2 207.0)" fill="none" stroke="#111" stroke-width="1.1"/>
<path d="M197.2,166.5 L197.3,183.4" fill="none" stroke="#111" stroke-width="2.0" />
<path d="M206.2,159 L199.9,182.4" fill="none" stroke="#111" stroke-width="2.0" />
<path d="M182,180.6 L192.6,187.6 M183,179.2 L193.6,186.2" fill="none" stroke="#111" stroke-width="0.8" />
<line x1="201.8" y1="185.8" x2="203.0" y2="188.2" stroke="#000" stroke-width="0.9"/>
<line x1="203.1" y1="185.1" x2="204.3" y2="187.4" stroke="#000" stroke-width="0.9"/>
<line x1="204.3" y1="184.3" x2="205.5" y2="186.7" stroke="#000" stroke-width="0.9"/>
<line x1="205.6" y1="183.6" x2="206.8" y2="185.9" stroke="#000" stroke-width="0.9"/>
<line x1="206.8" y1="182.8" x2="208.0" y2="185.2" stroke="#000" stroke-width="0.9"/>
<line x1="208.1" y1="182.1" x2="209.3" y2="184.4" stroke="#000" stroke-width="0.9"/>
<line x1="209.4" y1="181.3" x2="210.6" y2="183.7" stroke="#000" stroke-width="0.9"/>
<line x1="210.6" y1="180.6" x2="211.8" y2="182.9" stroke="#000" stroke-width="0.9"/>
<line x1="211.9" y1="179.8" x2="213.1" y2="182.2" stroke="#000" stroke-width="0.9"/>
<line x1="213.1" y1="179.1" x2="214.3" y2="181.4" stroke="#000" stroke-width="0.9"/>
<line x1="214.4" y1="178.3" x2="215.6" y2="180.7" stroke="#000" stroke-width="0.9"/>
<path d="M202.0,185.9 L214.8,178.2 M203,188.2 L215.6,180.6" fill="none" stroke="#111" stroke-width="0.7" />
<path d="M191.4,194.1 L187.5,197.1" fill="none" stroke="#111" stroke-width="2.0" />
<path d="M199.2,194.4 L202.4,200.2" fill="none" stroke="#111" stroke-width="2.2" />
<path d="M193.2,198.6 L187.4,211.6" fill="none" stroke="#111" stroke-width="2.0" />
<path d="M196.5,198.6 L196.9,209 L193.4,212.4" fill="none" stroke="#111" stroke-width="1.3" stroke-linejoin="round"/>
<path d="M196.6,198.6 L196.8,206" fill="none" stroke="#111" stroke-width="2.0" />
<ellipse cx="196.5" cy="189.9" rx="2.4" ry="4.4" transform="rotate(25.0 196.5 189.9)" fill="#fff" stroke="#111" stroke-width="1.1"/>
<ellipse cx="210.0" cy="152.5" rx="0.7" ry="1.2" transform="rotate(25.0 210.0 152.5)" fill="#444" stroke="#111" stroke-width="0.9"/>
<ellipse cx="219.3" cy="175.6" rx="0.7" ry="1.2" transform="rotate(25.0 219.3 175.6)" fill="#444" stroke="#111" stroke-width="0.9"/>
<ellipse cx="178.3" cy="178.9" rx="0.7" ry="1.2" transform="rotate(25.0 178.3 178.9)" fill="#444" stroke="#111" stroke-width="0.9"/>
<ellipse cx="176.6" cy="233.3" rx="0.7" ry="1.2" transform="rotate(25.0 176.6 233.3)" fill="#444" stroke="#111" stroke-width="0.9"/>
<line x1="175.8" y1="238.6" x2="175.8" y2="261.7" stroke="#222" stroke-width="1.3"/>
<text x="0" y="0" transform="translate(176.1,276.5) scale(0.8,1)" text-anchor="middle" font-size="17" fill="#1e1e1e" stroke="#1e1e1e" stroke-width="0.5">2</text>
<path d="M245.2,164.2 L255.2,189 L257.2,218.4 L215.4,252.4 C211,256 207,258.2 203.4,257.8 C198,256.6 193.6,251.8 191.4,246 C189.4,240 189.6,232 192,224 C194,217 198,208 203,202 C205.4,199 208,196 210.5,193.2 L222.5,181.9 Z" fill="#fff" stroke="#111" stroke-width="1.0" />
<ellipse cx="209.6" cy="222.3" rx="11.3" ry="18.6" transform="rotate(16.3 209.6 222.3)" fill="none" stroke="#111" stroke-width="1.0"/>
<path d="M201.0,218.6 L218.4,206.8" fill="none" stroke="#111" stroke-width="0.9" />
<ellipse cx="244.4" cy="167.7" rx="0.7" ry="1.0" transform="rotate(20.0 244.4 167.7)" fill="#555" stroke="#111" stroke-width="0.9"/>
<ellipse cx="253.4" cy="190.6" rx="0.7" ry="1.0" transform="rotate(20.0 253.4 190.6)" fill="#555" stroke="#111" stroke-width="0.9"/>
<ellipse cx="212.9" cy="194.0" rx="0.7" ry="1.0" transform="rotate(20.0 212.9 194.0)" fill="#555" stroke="#111" stroke-width="0.9"/>
<ellipse cx="211.4" cy="243.9" rx="0.7" ry="1.0" transform="rotate(20.0 211.4 243.9)" fill="#555" stroke="#111" stroke-width="0.9"/>
<ellipse cx="233.1" cy="230.5" rx="0.7" ry="1.0" transform="rotate(20.0 233.1 230.5)" fill="#555" stroke="#111" stroke-width="0.9"/>
<ellipse cx="253.7" cy="217.7" rx="0.7" ry="1.0" transform="rotate(20.0 253.7 217.7)" fill="#555" stroke="#111" stroke-width="0.9"/>
<ellipse cx="207.6" cy="209.4" rx="0.7" ry="1.0" transform="rotate(20.0 207.6 209.4)" fill="#555" stroke="#111" stroke-width="0.9"/>
<ellipse cx="213.3" cy="205.9" rx="0.7" ry="1.0" transform="rotate(20.0 213.3 205.9)" fill="#555" stroke="#111" stroke-width="0.9"/>
<ellipse cx="230.9" cy="205.6" rx="2.6" ry="4.4" transform="rotate(25.0 230.9 205.6)" fill="none" stroke="#111" stroke-width="1.0"/>
<line x1="211.2" y1="257.0" x2="211.2" y2="277.5" stroke="#222" stroke-width="1.3"/>
<text x="0" y="0" transform="translate(211.6,291.5) scale(0.8,1)" text-anchor="middle" font-size="17" fill="#1e1e1e" stroke="#1e1e1e" stroke-width="0.5">3</text>
<ellipse cx="186.5" cy="146.7" rx="1.8" ry="2.8" transform="rotate(25 186.5 146.7)" fill="#161616" stroke="none"/>
<line x1="187.2" y1="147.1" x2="191.4" y2="149.1" stroke="#161616" stroke-width="3.4"/>
<ellipse cx="197.8" cy="143.1" rx="1.8" ry="2.8" transform="rotate(25 197.8 143.1)" fill="#161616" stroke="none"/>
<line x1="198.5" y1="143.5" x2="202.7" y2="145.5" stroke="#161616" stroke-width="3.4"/>
<ellipse cx="171.4" cy="160.3" rx="1.8" ry="2.8" transform="rotate(25 171.4 160.3)" fill="#161616" stroke="none"/>
<line x1="172.1" y1="160.7" x2="176.3" y2="162.7" stroke="#161616" stroke-width="3.4"/>
<ellipse cx="166.4" cy="171.2" rx="1.8" ry="2.8" transform="rotate(25 166.4 171.2)" fill="#161616" stroke="none"/>
<line x1="167.1" y1="171.6" x2="171.3" y2="173.6" stroke="#161616" stroke-width="3.4"/>
<ellipse cx="153.8" cy="183.2" rx="1.8" ry="2.8" transform="rotate(25 153.8 183.2)" fill="#161616" stroke="none"/>
<line x1="154.5" y1="183.6" x2="158.7" y2="185.6" stroke="#161616" stroke-width="3.4"/>
<ellipse cx="141.8" cy="212.4" rx="2.2" ry="1.6" fill="#1c1c1c"/>
<path d="M140.6,213 L142.8,213 L142.4,216 L141,216 Z" fill="#1c1c1c"/>
<line x1="141.4" y1="213.0" x2="141.4" y2="237.5" stroke="#222" stroke-width="1.3"/>
<text x="0" y="0" transform="translate(141.9,251.5) scale(0.8,1)" text-anchor="middle" font-size="17" fill="#1e1e1e" stroke="#1e1e1e" stroke-width="0.5">7</text>
<path d="M248.0,238.0 C239.3,246.0 242.2,242.0 236.0,250.0 C229.8,258.0 232.5,254.3 229.5,262.0 C226.5,269.7 227.7,265.7 227.1,273.0 C226.5,280.3 225.8,277.3 227.6,284.0 C229.4,290.7 229.1,287.7 232.6,293.0 C236.1,298.3 232.2,291.8 238.0,300.0 C243.8,308.2 242.0,310.5 250.0,317.5 C258.0,324.5 255.7,320.0 262.0,321.0 C268.3,322.0 261.8,321.5 268.8,320.6 C275.8,319.7 273.0,321.3 283.0,318.4 C293.0,315.5 286.4,317.9 298.7,311.8 C311.0,305.7 305.6,308.4 320.0,300.0 C334.4,291.6 325.0,299.0 342.0,286.5 C359.0,274.0 354.5,274.8 371.0,262.6 C387.5,250.4 378.8,257.2 391.4,250.0 C404.0,242.8 400.0,245.7 408.7,241.0 C417.4,236.3 408.3,242.0 417.6,236.0 C426.9,230.0 425.4,231.6 436.5,223.0 C447.6,214.4 441.6,219.8 451.0,210.2 C460.4,200.6 458.2,202.7 464.8,194.2 C471.4,185.7 466.7,192.1 470.8,184.7 C474.9,177.3 473.6,180.2 477.0,172.0 C480.4,163.8 479.4,167.3 481.0,160.0 C482.6,152.7 482.9,157.1 481.7,150.0 C480.5,142.9 481.3,146.2 477.3,138.7 C473.3,131.2 475.8,134.2 469.6,127.6 C463.4,121.0 465.9,123.2 458.6,118.8 C451.3,114.4 457.1,114.7 447.6,114.4 C438.1,114.1 444.2,113.8 430.0,118.0 C415.8,122.2 421.7,119.3 405.0,127.0 C388.3,134.7 398.3,128.3 380.0,141.0 C361.7,153.7 370.0,150.0 350.0,165.0 C330.0,180.0 340.0,172.3 320.0,186.0 C300.0,199.7 309.3,192.7 290.0,206.0 C270.7,219.3 276.0,215.3 262.0,226.0 C248.0,236.7 256.7,230.0 248.0,238.0 Z" fill="#fff" stroke="none" stroke-width="0" />
<path d="M446.5,114.2 C448.3,114.7 448.0,114.1 452.0,115.6 C456.0,117.1 454.4,116.4 458.6,118.8 C462.8,121.2 460.8,119.9 464.5,122.8 C468.2,125.7 466.4,124.2 469.6,127.6 C472.8,131.0 471.4,129.3 474.0,133.0 C476.6,136.7 475.3,135.0 477.3,138.7 C479.3,142.4 478.6,140.2 480.0,144.0 C481.4,147.8 480.9,145.3 481.4,150.0 C481.9,154.7 482.1,153.0 481.6,158.0 C481.1,163.0 481.7,159.7 480.0,165.0 C478.3,170.3 479.6,167.4 476.5,174.0 C473.4,180.6 474.7,178.0 470.8,184.7 C466.9,191.4 469.0,188.2 464.8,194.2 C460.6,200.2 462.8,197.3 458.2,202.6 C453.6,207.9 455.7,205.5 451.0,210.2 C446.3,214.9 448.8,212.5 444.0,216.8 C439.2,221.1 441.5,219.1 436.5,223.0 C431.5,226.9 435.3,224.3 429.0,228.6 C422.7,232.9 424.4,231.9 417.6,236.0 C410.8,240.1 414.4,237.8 408.7,240.8 C403.0,243.8 403.2,243.6 400.5,245.0" fill="none" stroke="#111" stroke-width="1.65" />
<path d="M400.5,245.0 C397.5,246.6 397.6,246.3 391.4,249.8 C385.2,253.3 388.8,251.2 382.0,255.6 C375.2,260.0 380.0,256.6 371.0,263.0 C362.0,269.4 365.5,267.6 355.0,274.8 C344.5,282.0 349.4,278.0 339.4,284.6 C329.4,291.2 334.6,288.2 325.0,294.5 C315.4,300.8 319.3,298.6 310.5,303.6 C301.7,308.6 305.5,306.4 298.7,309.6 C291.9,312.8 295.2,311.2 290.0,313.2 C284.8,315.2 288.0,314.3 283.0,315.6 C278.0,316.9 280.0,316.7 275.0,317.0 C270.0,317.3 272.3,317.6 268.0,316.6 C263.7,315.6 264.0,314.9 262.0,314.0" fill="none" stroke="#111" stroke-width="1.65" />
<path d="M262.0,321.4 C264.3,321.3 264.1,321.5 268.8,321.0 C273.5,320.5 271.3,320.7 276.0,319.8 C280.7,318.9 278.3,319.3 283.0,318.2 C287.7,317.1 284.8,318.2 290.0,316.4 C295.2,314.6 291.9,315.7 298.7,312.8 C305.5,309.9 301.7,312.2 310.5,307.6 C319.3,303.0 314.5,305.7 325.0,299.0 C335.5,292.3 331.7,294.6 342.0,287.4 C352.3,280.2 346.3,284.5 356.0,277.4 C365.7,270.3 361.0,273.1 371.0,266.0 C381.0,258.9 377.0,261.8 386.0,256.0 C395.0,250.2 394.0,251.1 398.0,248.6" fill="none" stroke="#111" stroke-width="1.0" />
<path d="M253.4,284.0 C253.7,286.1 253.3,286.1 254.2,290.4 C255.1,294.7 254.4,292.7 256.2,296.8 C258.0,300.9 256.9,298.9 259.5,302.6 C262.1,306.3 261.3,305.1 264.1,307.8 C266.9,310.5 265.4,309.1 268.0,310.8 C270.6,312.5 269.0,311.9 272.0,313.0 C275.0,314.1 273.3,313.9 277.0,314.2 C280.7,314.5 278.7,314.8 283.0,313.8 C287.3,312.8 285.3,313.3 290.0,311.2 C294.7,309.1 291.8,310.5 297.0,307.6 C302.2,304.7 298.0,307.2 305.7,302.4 C313.4,297.6 309.5,300.1 320.0,293.2 C330.5,286.3 325.5,289.5 337.2,281.8 C348.9,274.1 343.4,277.6 355.0,270.2 C366.6,262.8 362.2,265.6 371.9,259.5 C381.6,253.4 375.9,257.0 384.0,252.0 C392.1,247.0 392.1,247.1 396.1,244.6" fill="none" stroke="#111" stroke-width="0.95" />
<path d="M349.2,180.0 C339.5,186.9 339.7,186.7 320.0,200.8 C300.3,214.9 302.3,213.4 290.0,222.2 C277.7,231.0 288.0,223.7 283.0,227.2 C278.0,230.7 280.3,228.7 275.0,232.8 C269.7,236.9 272.2,235.0 267.2,239.4 C262.2,243.8 264.2,241.5 260.0,246.0 C255.8,250.5 257.9,248.1 254.6,252.8 C251.3,257.5 252.6,254.8 250.0,260.0 C247.4,265.2 248.7,262.8 246.8,268.5 C244.9,274.2 245.5,271.8 244.4,277.0 C243.3,282.2 243.7,279.7 243.6,284.0 C243.5,288.3 243.4,286.3 244.2,290.0 C245.0,293.7 244.2,291.5 246.0,295.2 C247.8,298.9 246.9,297.3 249.5,301.0 C252.1,304.7 251.1,303.1 253.9,306.2 C256.7,309.3 255.3,307.9 258.0,310.4 C260.7,312.9 260.7,312.5 262.0,313.6" fill="none" stroke="#111" stroke-width="0.95" />
<path d="M353.0,180.0 C342.0,187.8 341.0,188.5 320.0,203.4 C299.0,218.3 302.3,215.9 290.0,224.7 C277.7,233.5 287.7,226.4 283.0,229.8 C278.3,233.2 280.7,231.3 276.0,235.0 C271.3,238.7 273.7,236.8 269.0,241.0 C264.3,245.2 266.0,243.3 262.0,247.6 C258.0,251.9 260.1,249.5 257.0,254.0 C253.9,258.5 255.1,256.0 252.6,261.0 C250.1,266.0 251.3,263.7 249.4,269.0 C247.5,274.3 248.1,272.0 247.0,277.0 C245.9,282.0 246.3,279.7 246.2,284.0 C246.1,288.3 246.0,286.3 246.8,290.0 C247.6,293.7 246.9,291.5 248.6,295.0 C250.3,298.5 249.5,297.1 252.0,300.4 C254.5,303.7 253.3,302.1 256.0,305.0 C258.7,307.9 257.3,306.7 260.0,309.0 C262.7,311.3 262.7,311.0 264.0,312.0" fill="none" stroke="#111" stroke-width="0.95" />
<path d="M360.5,181.3 C348.7,189.4 348.5,189.5 325.0,205.6 C301.5,221.7 304.0,220.0 290.0,229.7 C276.0,239.4 287.7,231.2 283.0,234.8 C278.3,238.4 280.3,236.7 276.0,240.6 C271.7,244.5 273.8,242.3 270.0,246.4 C266.2,250.5 267.8,248.5 264.5,253.0 C261.2,257.5 262.7,255.0 260.0,260.0 C257.3,265.0 258.3,262.7 256.4,268.0 C254.5,273.3 255.2,270.7 254.2,276.0 C253.2,281.3 253.7,281.3 253.4,284.0" fill="none" stroke="#111" stroke-width="0.95" />
<path d="M365.6,181.3 C353.4,189.9 353.4,190.0 329.0,207.2 C304.6,224.4 307.0,222.6 292.5,232.9 C278.0,243.2 290.0,234.5 285.5,238.2 C281.0,241.9 283.2,240.1 279.0,244.0 C274.8,247.9 276.8,245.8 273.0,250.0 C269.2,254.2 270.8,252.1 267.6,256.6 C264.4,261.1 265.9,258.6 263.4,263.4 C260.9,268.2 261.9,265.8 260.0,271.0 C258.1,276.2 258.7,274.0 257.6,279.0 C256.5,284.0 256.8,281.7 256.6,286.0 C256.4,290.3 256.3,288.3 257.0,292.0 C257.7,295.7 256.9,293.5 258.6,297.0 C260.3,300.5 259.4,299.1 262.0,302.6 C264.6,306.1 263.4,304.8 266.4,307.6 C269.4,310.4 267.8,309.3 271.0,311.0 C274.2,312.7 274.3,312.1 276.0,312.6" fill="none" stroke="#111" stroke-width="0.95" />
<path d="M249.0,237.0 C246.0,239.7 245.2,239.3 240.0,245.0 C234.8,250.7 237.0,248.0 233.5,254.0 C230.0,260.0 231.6,257.0 229.6,263.0 C227.6,269.0 228.2,266.3 227.4,272.0 C226.6,277.7 226.7,275.0 227.1,280.0 C227.5,285.0 227.1,282.7 228.7,287.0 C230.3,291.3 229.9,289.7 232.0,293.0 C234.1,296.3 234.0,295.7 235.0,297.0" fill="none" stroke="#111" stroke-width="1.9" />
<path d="M251.0,239.6 C248.3,241.9 248.0,241.3 243.0,246.6 C238.0,251.9 239.7,249.8 236.0,255.6 C232.3,261.4 234.0,258.2 232.0,264.0 C230.0,269.8 230.8,267.7 230.1,273.0 C229.4,278.3 229.5,275.5 229.9,280.0 C230.3,284.5 229.8,282.7 231.4,286.6 C233.0,290.5 232.6,288.7 234.6,291.6 C236.6,294.5 236.5,294.1 237.4,295.4" fill="none" stroke="#111" stroke-width="1.5" />
<path d="M349.2,180.0 C353.8,176.7 353.7,176.7 363.0,170.2 C372.3,163.7 368.0,166.9 377.0,160.6 C386.0,154.3 380.4,158.4 390.0,151.4 C399.6,144.4 395.7,146.2 405.7,139.6 C415.7,133.0 409.7,136.3 420.0,131.6 C430.3,126.9 425.5,128.1 436.5,125.4 C447.5,122.7 443.8,123.4 453.0,123.6 C462.2,123.8 457.8,123.4 464.1,126.0 C470.4,128.6 469.2,129.7 471.8,131.5" fill="none" stroke="#111" stroke-width="0.95" />
<path d="M353.0,180.0 C357.3,177.1 357.0,177.3 366.0,171.2 C375.0,165.1 371.3,167.5 380.0,161.6 C388.7,155.7 382.9,159.9 392.0,153.4 C401.1,146.9 398.0,148.7 407.3,142.2 C416.6,135.7 410.3,138.8 420.0,133.8 C429.7,128.8 425.5,130.0 436.5,127.2 C447.5,124.4 444.0,125.2 453.0,125.4 C462.0,125.6 457.5,125.3 463.5,127.8 C469.5,130.3 468.5,131.3 471.0,133.0" fill="none" stroke="#111" stroke-width="0.95" />
<path d="M360.5,181.3 C365.3,177.9 365.2,178.0 375.0,171.2 C384.8,164.4 380.0,168.2 390.0,160.8 C400.0,153.4 395.0,156.4 405.0,149.0 C415.0,141.6 409.5,144.2 420.0,138.7 C430.5,133.2 425.5,135.4 436.5,132.6 C447.5,129.8 443.8,130.6 453.0,130.4 C462.2,130.2 458.4,130.2 464.1,132.0 C469.8,133.8 468.2,134.6 470.2,135.9" fill="none" stroke="#111" stroke-width="0.95" />
<path d="M365.6,181.3 C370.4,178.0 370.5,178.0 380.0,171.4 C389.5,164.8 384.7,168.4 394.0,161.6 C403.3,154.8 399.3,158.0 408.0,151.0 C416.7,144.0 410.5,146.2 420.0,140.6 C429.5,135.0 425.5,137.1 436.5,134.3 C447.5,131.5 444.2,132.3 453.0,132.1 C461.8,131.9 457.7,132.0 463.0,133.8 C468.3,135.6 467.0,136.2 469.0,137.4" fill="none" stroke="#111" stroke-width="0.95" />
<path d="M453.0,148.6 C459.3,143.5 465.5,138.3 471.8,133.2" fill="none" stroke="#111" stroke-width="0.95" />
<path d="M455.3,150.2 C461.5,145.1 467.8,139.9 474.0,134.8" fill="none" stroke="#111" stroke-width="0.95" />
<path d="M457.0,152.0 C463.0,146.8 469.1,141.7 475.1,136.5" fill="none" stroke="#111" stroke-width="0.95" />
<path d="M474.0,134.8 C475.2,136.4 475.7,136.4 477.5,139.5 C479.3,142.6 478.5,140.8 479.5,144.0 C480.5,147.2 480.0,145.7 480.4,149.0 C480.8,152.3 480.5,152.3 480.6,154.0" fill="none" stroke="#111" stroke-width="0.95" />
<path d="M471.8,137.6 C472.9,139.1 473.2,139.1 475.0,142.0 C476.8,144.9 476.2,143.1 477.3,146.4 C478.4,149.7 477.8,148.1 478.2,152.0 C478.6,155.9 478.8,153.3 478.4,158.0 C478.0,162.7 478.6,160.3 477.0,166.0 C475.4,171.7 476.5,168.7 473.5,175.0 C470.5,181.3 469.8,181.7 468.0,185.0" fill="none" stroke="#111" stroke-width="0.95" />
<path d="M468.0,185.0 C466.1,188.0 466.4,188.2 462.4,194.0 C458.4,199.8 460.5,197.2 456.0,202.4 C451.5,207.6 453.7,205.1 449.0,209.6 C444.3,214.1 446.8,211.7 442.0,215.8 C437.2,219.9 439.6,218.1 434.6,221.8 C429.6,225.5 433.2,222.9 427.0,227.0 C420.8,231.1 423.3,229.8 416.0,234.0 C408.7,238.2 408.7,237.7 405.0,239.6" fill="none" stroke="#111" stroke-width="0.95" />
<path d="M407.3,223.4 C410.2,222.5 409.9,222.6 416.0,220.6 C422.1,218.6 419.9,219.5 425.6,217.5 C431.3,215.5 428.2,216.6 433.0,214.6 C437.8,212.6 437.7,212.5 440.0,211.4" fill="none" stroke="#111" stroke-width="0.95" />
<ellipse cx="451.8" cy="140.0" rx="3.3" ry="4.6" transform="rotate(8.0 451.8 140.0)" fill="#fff" stroke="#111" stroke-width="1.0"/>
<ellipse cx="423.9" cy="149.1" rx="3.5" ry="4.6" transform="rotate(12.0 423.9 149.1)" fill="#fff" stroke="#111" stroke-width="1.0"/>
<ellipse cx="397.4" cy="168.3" rx="4.0" ry="4.7" transform="rotate(15.0 397.4 168.3)" fill="#fff" stroke="#111" stroke-width="1.0"/>
<ellipse cx="464.3" cy="187.1" rx="2.2" ry="3.8" transform="rotate(35.0 464.3 187.1)" fill="#fff" stroke="#111" stroke-width="1.0"/>
<ellipse cx="440.7" cy="213.1" rx="2.2" ry="3.8" transform="rotate(50.0 440.7 213.1)" fill="#fff" stroke="#111" stroke-width="1.0"/>
<ellipse cx="413.7" cy="230.6" rx="2.6" ry="3.8" transform="rotate(45.0 413.7 230.6)" fill="#fff" stroke="#111" stroke-width="1.0"/>
<path d="M405.1,212.6 L403.0,211.7 L401.0,210.8 L399.2,209.6 L397.5,208.3 L395.9,206.9 L394.6,205.4 L393.4,203.7 L392.4,201.9 L391.6,200.0 L391.0,198.1 L390.5,196.0 L390.3,193.9 L390.3,191.7 L390.5,189.4 L390.8,187.1 L391.4,184.8 L392.2,182.5 L393.1,180.2 L394.3,177.9 L395.6,175.6 L397.1,173.3 L398.7,171.1 L400.5,169.0 L402.5,166.9 L404.6,164.9 L406.8,163.0 L409.1,161.2 L411.5,159.5 L414.0,157.9 L416.6,156.4 L419.3,155.1 L422.0,153.9 L424.7,152.9 L427.5,152.0 L430.2,151.3 L433.0,150.8 L435.7,150.4 L438.4,150.2 L441.0,150.1 L443.6,150.2 L446.0,150.5 L448.4,151.0 L450.7,151.6 L452.9,152.4 L454.9,153.3 L456.8,154.4 L458.6,155.6 L460.1,157.0 L461.6,158.5 L462.8,160.1 L463.9,161.8 L464.8,163.7 L465.4,165.6 L465.9,167.7 L466.2,169.8 L466.3,172.0 L466.2,174.2 L465.9,176.5 L465.4,178.8" fill="none" stroke="#111" stroke-width="0.8" />
<path d="M406.3,212.2 L404.2,211.5 L402.3,210.5 L400.5,209.5 L398.9,208.3 L397.4,206.9 L396.1,205.5 L395.0,203.9 L394.1,202.2 L393.3,200.4 L392.7,198.5 L392.3,196.5 L392.1,194.5 L392.1,192.4 L392.3,190.2 L392.7,188.1 L393.3,185.8 L394.0,183.6 L395.0,181.4 L396.1,179.2 L397.4,177.0 L398.8,174.8 L400.4,172.7 L402.2,170.6 L404.1,168.6 L406.1,166.7 L408.3,164.8 L410.5,163.1 L412.9,161.4 L415.3,159.9 L417.9,158.5 L420.4,157.2 L423.0,156.0 L425.7,155.0 L428.4,154.2 L431.0,153.5 L433.7,152.9 L436.3,152.5 L438.9,152.3 L441.4,152.2 L443.9,152.3 L446.3,152.6 L448.6,153.0 L450.8,153.5 L452.9,154.3 L454.8,155.1 L456.7,156.1 L458.3,157.3 L459.9,158.6 L461.2,160.0 L462.4,161.6 L463.4,163.2 L464.3,165.0 L464.9,166.8 L465.4,168.8 L465.6,170.8 L465.7,172.9 L465.6,175.0 L465.3,177.2 L464.8,179.4" fill="none" stroke="#111" stroke-width="0.8" />
<path d="M412.6,213.0 L410.2,212.6 L408.0,212.1 L405.9,211.4 L403.9,210.5 L402.1,209.4 L400.4,208.2 L398.9,206.9 L397.6,205.4 L396.5,203.8 L395.6,202.1 L394.8,200.3 L394.3,198.3 L394.0,196.3 L393.9,194.2 L394.0,192.1 L394.4,189.9 L394.9,187.6 L395.6,185.4 L396.5,183.1 L397.7,180.9 L399.0,178.6 L400.5,176.4 L402.2,174.2 L404.0,172.1 L406.0,170.1 L408.1,168.1 L410.3,166.2 L412.7,164.5 L415.2,162.8 L417.7,161.3 L420.3,159.9 L423.0,158.6 L425.7,157.5 L428.4,156.6 L431.2,155.8 L433.9,155.2 L436.6,154.7 L439.2,154.4 L441.8,154.3 L444.4,154.4 L446.8,154.6 L449.1,155.0 L451.4,155.6 L453.5,156.4 L455.4,157.3 L457.2,158.3 L458.8,159.6 L460.3,160.9 L461.6,162.4 L462.7,164.0 L463.6,165.8 L464.2,167.6 L464.7,169.6 L465.0,171.6 L465.1,173.7 L464.9,175.9 L464.6,178.1 L464.0,180.3 L463.3,182.6" fill="none" stroke="#111" stroke-width="0.9" />
<path d="M414.8,213.8 L412.6,213.5 L410.5,213.0 L408.5,212.4 L406.7,211.6 L405.0,210.7 L403.5,209.6 L402.1,208.4 L400.9,207.1 L399.9,205.7 L399.1,204.1 L398.4,202.4 L398.0,200.7 L397.7,198.8 L397.7,196.9 L397.8,195.0 L398.2,192.9 L398.7,190.9 L399.4,188.8 L400.3,186.7 L401.4,184.6 L402.7,182.5 L404.2,180.5 L405.8,178.4 L407.5,176.5 L409.4,174.5 L411.4,172.7 L413.6,171.0 L415.8,169.3 L418.2,167.7 L420.6,166.3 L423.0,164.9 L425.6,163.7 L428.1,162.7 L430.7,161.8 L433.3,161.0 L435.8,160.4 L438.4,159.9 L440.9,159.6 L443.3,159.4 L445.7,159.5 L448.0,159.6 L450.1,160.0 L452.2,160.5 L454.2,161.1 L456.0,161.9 L457.6,162.8 L459.1,163.9 L460.5,165.2 L461.7,166.5 L462.6,168.0 L463.4,169.5 L464.1,171.2 L464.5,173.0 L464.7,174.8 L464.7,176.8 L464.5,178.8 L464.2,180.8 L463.6,182.8 L462.8,184.9" fill="none" stroke="#666" stroke-width="1.3" />
<ellipse cx="432.2" cy="188.7" rx="35.0" ry="20.9" transform="rotate(-31.0 432.2 188.7)" fill="#fff" stroke="#111" stroke-width="1.7"/>
<ellipse cx="464.6" cy="187.1" rx="2.0" ry="3.8" transform="rotate(35.0 464.6 187.1)" fill="#fff" stroke="#111" stroke-width="1.0"/>
<ellipse cx="440.7" cy="213.6" rx="2.0" ry="3.8" transform="rotate(50.0 440.7 213.6)" fill="#fff" stroke="#111" stroke-width="1.0"/>
<text transform="matrix(0.745,-0.415,-0.26,0.97,414.8,205.0)" font-family="Liberation Sans, sans-serif" font-weight="bold" font-size="20" fill="#fff" stroke="#000" stroke-width="1.6" stroke-linejoin="round" letter-spacing="0.1">SYM</text>
<path d="M293.1,284.9 C292.1,282.6 291.6,282.6 290.0,278.0 C288.4,273.4 288.5,275.1 288.4,271.0 C288.3,266.9 288.2,268.9 289.6,265.6 C291.0,262.3 289.9,264.0 292.6,261.2 C295.3,258.4 291.8,261.4 297.6,257.3 C303.4,253.2 298.2,256.8 310.0,249.0 C321.8,241.2 316.3,245.8 333.0,233.9 C349.7,222.0 342.3,226.8 360.0,213.4 C377.7,200.0 375.4,201.4 386.1,193.6 C396.8,185.8 388.3,192.9 392.0,190.0 C395.7,187.1 395.5,186.7 397.2,185.0" fill="none" stroke="#111" stroke-width="1.1" />
<path d="M294.5,284.3 C293.5,282.0 292.9,282.0 291.4,277.5 C289.9,273.1 290.0,274.7 289.9,271.0 C289.8,267.2 289.7,269.1 291.0,266.2 C292.2,263.3 291.2,264.8 293.7,262.2 C296.2,259.7 292.7,262.5 298.5,258.5 C304.2,254.5 299.0,258.1 310.8,250.3 C322.6,242.4 317.2,247.0 333.9,235.1 C350.6,223.2 343.2,228.0 360.9,214.6 C378.6,201.2 376.3,202.6 387.0,194.8 C397.7,187.0 389.2,194.1 392.9,191.2 C396.7,188.3 396.5,187.8 398.2,186.1" fill="none" stroke="#111" stroke-width="0.95" />
<path d="M295.8,283.7 C294.8,281.5 294.3,281.3 292.8,277.0 C291.4,272.8 291.6,274.3 291.4,270.9 C291.2,267.5 291.2,269.3 292.4,266.8 C293.5,264.2 292.4,265.6 294.8,263.3 C297.1,260.9 293.7,263.7 299.3,259.8 C305.0,255.8 299.8,259.3 311.7,251.5 C323.5,243.7 318.0,248.2 334.7,236.3 C351.5,224.4 344.1,229.2 361.8,215.8 C379.5,202.3 377.2,203.8 387.9,196.0 C398.5,188.2 390.0,195.3 393.8,192.4 C397.6,189.4 397.5,188.9 399.3,187.2" fill="none" stroke="#111" stroke-width="0.95" />
<path d="M297.1,283.1 C296.1,280.9 295.6,280.7 294.2,276.6 C292.7,272.5 293.0,273.9 292.8,270.9 C292.6,267.8 292.7,269.5 293.6,267.3 C294.6,265.1 293.6,266.4 295.8,264.3 C297.9,262.1 294.6,264.8 300.1,260.9 C305.7,257.0 300.6,260.5 312.4,252.7 C324.2,244.9 318.8,249.4 335.6,237.5 C352.3,225.6 344.9,230.3 362.7,216.9 C380.4,203.5 378.0,205.0 388.7,197.2 C399.4,189.3 392.7,194.7 394.7,193.5" fill="none" stroke="#111" stroke-width="1.0" />
<path d="M293.1,284.9 C294.4,285.8 293.8,286.4 297.0,287.6 C300.2,288.8 298.6,288.9 302.6,288.4 C306.6,287.9 302.7,289.4 309.0,286.2 C315.3,283.0 312.2,284.5 321.5,278.8 C330.8,273.1 326.5,275.7 337.0,269.2 C347.5,262.7 342.0,266.2 353.0,259.3 C364.0,252.4 359.3,255.4 370.0,248.6 C380.7,241.8 376.3,244.7 385.0,239.0 C393.7,233.3 390.0,235.7 396.0,231.6 C402.0,227.5 400.7,228.3 403.0,226.6" fill="none" stroke="#111" stroke-width="1.1" />
<path d="M294.0,283.6 C295.2,284.4 294.8,285.0 297.6,286.1 C300.4,287.2 298.8,287.3 302.4,286.8 C306.0,286.4 302.2,287.9 308.3,284.8 C314.4,281.6 311.4,283.1 320.7,277.4 C330.0,271.8 331.0,271.0 336.2,267.8" fill="none" stroke="#111" stroke-width="0.95" />
<path d="M298.1,284.6 C299.5,284.8 299.1,285.6 302.2,285.2 C305.4,284.8 301.7,286.4 307.6,283.3 C313.4,280.3 310.6,281.7 319.8,276.1 C329.1,270.4 324.8,273.0 335.3,266.5 C345.8,260.0 340.3,263.4 351.3,256.6 C362.3,249.7 357.6,252.7 368.3,245.9 C378.9,239.1 374.6,242.0 383.2,236.3 C391.9,230.7 388.2,233.1 394.2,229.0 C400.1,224.9 398.8,225.7 401.1,224.0" fill="none" stroke="#111" stroke-width="0.95" />
<path d="M305.4,267.0 C305.4,263.2 304.5,265.5 306.4,262.6 C308.3,259.7 305.5,262.5 311.0,258.3 C316.5,254.1 314.6,255.8 323.0,250.0 C331.4,244.2 330.2,244.3 336.1,241.0 C342.0,237.7 338.0,239.5 340.6,240.2 C343.2,240.9 342.3,240.1 344.0,243.0 C345.7,245.9 345.7,244.7 345.6,248.9 C345.5,253.1 345.7,251.7 343.6,255.6 C341.5,259.5 344.8,256.3 339.3,260.7 C333.8,265.1 335.4,263.3 327.0,268.8 C318.6,274.3 319.9,274.3 314.1,277.2 C308.3,280.1 312.2,278.7 309.6,277.6 C307.0,276.5 307.8,277.5 306.4,274.0 C305.0,270.5 305.4,270.8 305.4,267.0 Z" fill="none" stroke="#111" stroke-width="1.0" />
<path d="M307.6,267.4 C307.6,264.5 307.0,266.4 308.6,264.0 C310.2,261.6 307.3,264.2 312.4,260.3 C317.5,256.4 315.9,257.8 324.0,252.2 C332.1,246.6 331.3,246.5 336.6,243.4 C341.9,240.3 338.0,242.5 339.8,243.0 C341.6,243.5 340.9,242.9 342.0,245.0 C343.1,247.1 343.2,246.2 343.0,249.4 C342.8,252.6 343.1,251.4 341.4,254.6 C339.7,257.8 342.9,254.8 337.8,258.9 C332.7,263.0 334.1,261.5 326.0,266.8 C317.9,272.1 318.7,272.1 313.6,274.8 C308.5,277.5 312.5,275.7 310.8,275.0 C309.1,274.3 309.7,275.1 308.6,272.6 C307.5,270.1 307.6,270.3 307.6,267.4 Z" fill="none" stroke="#111" stroke-width="0.7" />
<path d="M310.0,276.6 C314.0,274.3 314.0,274.6 322.0,269.6 C330.0,264.6 330.0,264.3 334.0,261.6" fill="none" stroke="#111" stroke-width="0.7" />
<path d="M311.5,278.2 C315.3,275.9 315.0,276.5 323.0,271.4 C331.0,266.3 331.3,265.8 335.5,263.0" fill="none" stroke="#111" stroke-width="0.7" />
<ellipse cx="322.8" cy="257.5" rx="7.4" ry="6.6" transform="rotate(-30.0 322.8 257.5)" fill="#fff" stroke="#111" stroke-width="1.0"/>
<path d="M329.6,252.6 C330.9,252.9 331.6,252.0 333.4,253.6 C335.2,255.2 334.9,254.7 335.0,257.4 C335.1,260.1 335.3,259.3 333.6,261.6 C331.9,263.9 331.2,263.5 330.0,264.4" fill="none" stroke="#111" stroke-width="0.8" />
<path d="M257.0,233.1 C259.0,234.7 259.1,234.8 263.0,238.0 C266.9,241.2 265.3,239.8 268.6,242.6 C271.9,245.4 271.4,245.2 272.8,246.5" fill="none" stroke="#111" stroke-width="0.95" />
<path d="M283.0,230.0 C284.7,232.9 284.7,232.6 288.0,238.6 C291.3,244.6 289.7,241.7 293.0,248.0 C296.3,254.3 296.3,254.3 298.0,257.5" fill="none" stroke="#111" stroke-width="0.95" />
<path d="M306.3,288.1 C306.2,291.4 306.1,291.4 305.9,298.0 C305.7,304.6 305.8,304.5 305.8,307.8" fill="none" stroke="#111" stroke-width="0.95" />
<path d="M357.0,177.1 C358.7,178.3 358.6,178.2 362.0,180.6 C365.4,183.0 362.5,181.6 367.2,184.2 C371.9,186.8 369.7,185.5 376.0,188.4 C382.3,191.3 382.7,191.3 386.1,192.8" fill="none" stroke="#111" stroke-width="0.95" />
<path d="M375.1,173.1 C378.7,174.9 378.1,174.4 386.0,178.4 C393.9,182.4 394.5,182.8 398.7,185.0" fill="none" stroke="#111" stroke-width="0.95" />
<path d="M396.3,132.8 C398.2,133.9 398.3,133.8 402.0,136.2 C405.7,138.6 404.7,137.6 407.3,139.9 C409.9,142.2 408.5,140.9 409.8,143.0 C411.1,145.1 410.8,145.1 411.3,146.2" fill="none" stroke="#111" stroke-width="0.95" />
<path d="M397.2,185.0 C395.3,187.7 394.2,187.5 391.6,193.0 C389.0,198.5 390.0,196.5 389.3,201.5 C388.6,206.5 388.9,203.8 389.4,208.0 C389.9,212.2 389.4,210.3 390.9,214.1 C392.4,217.9 391.4,216.3 394.0,219.4 C396.6,222.5 395.4,221.4 398.7,223.5 C402.0,225.6 402.2,224.9 404.0,225.6" fill="none" stroke="#111" stroke-width="0.95" />
<path d="M399.6,183.6 C397.9,186.1 397.0,185.5 394.6,191.0 C392.2,196.5 393.1,194.7 392.4,200.0 C391.7,205.3 392.0,202.7 392.6,207.0 C393.2,211.3 392.6,209.3 394.2,213.0 C395.8,216.7 394.8,215.1 397.4,218.0 C400.0,220.9 398.8,219.7 402.0,221.6 C405.2,223.5 405.3,222.9 407.0,223.6" fill="none" stroke="#111" stroke-width="0.95" />
<path d="M403.0,226.6 C406.0,226.1 406.3,226.2 412.0,225.2 C417.7,224.2 417.3,224.1 420.0,223.5" fill="none" stroke="#111" stroke-width="0.95" />
<path d="M396.1,226.8 C394.1,230.5 393.9,230.6 390.0,238.0 C386.1,245.4 386.2,245.3 384.3,248.9" fill="none" stroke="#111" stroke-width="0.95" />
<path d="M405.6,225.2 C403.9,228.7 403.8,228.8 400.4,235.6 C397.0,242.4 397.1,242.3 395.4,245.7" fill="none" stroke="#111" stroke-width="0.95" />
<path d="M396.0,231.6 C398.7,230.9 398.7,230.5 404.0,229.4 C409.3,228.3 409.3,228.6 412.0,228.2" fill="none" stroke="#111" stroke-width="0.95" />
<line x1="252.0" y1="233.0" x2="274.0" y2="217.4" stroke="#111" stroke-width="3.7"/>
<line x1="252.0" y1="233.0" x2="274.0" y2="217.4" stroke="#8a8a8a" stroke-width="0.8"/>
<line x1="288.0" y1="207.5" x2="319.5" y2="185.1" stroke="#111" stroke-width="3.7"/>
<line x1="288.0" y1="207.5" x2="319.5" y2="185.1" stroke="#8a8a8a" stroke-width="0.8"/>
<line x1="333.5" y1="175.2" x2="367.0" y2="151.4" stroke="#111" stroke-width="3.7"/>
<line x1="333.5" y1="175.2" x2="367.0" y2="151.4" stroke="#8a8a8a" stroke-width="0.8"/>
<line x1="380.0" y1="142.2" x2="394.0" y2="132.2" stroke="#111" stroke-width="3.7"/>
<line x1="380.0" y1="142.2" x2="394.0" y2="132.2" stroke="#8a8a8a" stroke-width="0.8"/>
<path d="M393.1,130.9 L407.0,123.0 L394.9,133.5 Z" fill="#111" stroke="#111" stroke-width="0.5"/>
<path d="M272.2,215.3 C272.3,213.2 271.4,212.6 272.4,208.9 C273.4,205.2 272.9,206.3 275.1,204.2 C277.3,202.1 276.4,202.6 278.9,202.6 C281.4,202.6 280.4,202.5 282.7,204.1 C285.0,205.7 284.1,204.8 285.8,207.3 C287.5,209.8 287.1,210.2 287.7,211.7 L292.5,211.7 L290.7,213.4 L276.9,223.3 L274.9,222.1 L273.0,220.1 Z" fill="#fff" stroke="#111" stroke-width="1.5" stroke-linejoin="round"/>
<path d="M278.1,222.1 C278.3,219.3 277.6,218.0 278.7,213.7 C279.8,209.4 279.5,211.3 281.3,209.3 C283.1,207.3 282.4,208.0 284.1,207.7 C285.8,207.4 285.2,207.2 286.5,208.5 C287.8,209.8 287.6,210.6 288.1,211.7" fill="none" stroke="#111" stroke-width="1.3" />
<path d="M274.1,215.6 C274.4,217.5 274.7,219.5 275.0,221.4" fill="none" stroke="#111" stroke-width="1.5" />
<path d="M276.3,214.6 C276.5,217.2 276.8,219.8 277.0,222.4" fill="none" stroke="#111" stroke-width="1.5" />
<path d="M318.4,180.7 C318.5,178.6 317.6,178.0 318.6,174.3 C319.6,170.6 319.1,171.7 321.3,169.6 C323.5,167.5 322.6,168.0 325.1,168.0 C327.6,168.0 326.6,167.9 328.9,169.5 C331.2,171.1 330.3,170.2 332.0,172.7 C333.7,175.2 333.3,175.6 333.9,177.1 L338.7,177.1 L336.9,178.8 L323.1,188.7 L321.1,187.5 L319.2,185.5 Z" fill="#fff" stroke="#111" stroke-width="1.5" stroke-linejoin="round"/>
<path d="M324.3,187.5 C324.5,184.7 323.8,183.4 324.9,179.1 C326.0,174.8 325.7,176.7 327.5,174.7 C329.3,172.7 328.6,173.4 330.3,173.1 C332.0,172.8 331.4,172.6 332.7,173.9 C334.0,175.2 333.8,176.0 334.3,177.1" fill="none" stroke="#111" stroke-width="1.3" />
<path d="M320.3,181.0 C320.6,182.9 320.9,184.9 321.2,186.8" fill="none" stroke="#111" stroke-width="1.5" />
<path d="M322.5,180.0 C322.7,182.6 323.0,185.2 323.2,187.8" fill="none" stroke="#111" stroke-width="1.5" />
<path d="M365.6,147.9 C365.7,145.8 364.8,145.2 365.8,141.5 C366.8,137.8 366.3,138.9 368.5,136.8 C370.7,134.7 369.8,135.2 372.3,135.2 C374.8,135.2 373.8,135.1 376.1,136.7 C378.4,138.3 377.5,137.4 379.2,139.9 C380.9,142.4 380.5,142.8 381.1,144.3 L385.9,144.3 L384.1,146.0 L370.3,155.9 L368.3,154.7 L366.4,152.7 Z" fill="#fff" stroke="#111" stroke-width="1.5" stroke-linejoin="round"/>
<path d="M371.5,154.7 C371.7,151.9 371.0,150.6 372.1,146.3 C373.2,142.0 372.9,143.9 374.7,141.9 C376.5,139.9 375.8,140.6 377.5,140.3 C379.2,140.0 378.6,139.8 379.9,141.1 C381.2,142.4 381.0,143.2 381.5,144.3" fill="none" stroke="#111" stroke-width="1.3" />
<path d="M367.5,148.2 C367.8,150.1 368.1,152.1 368.4,154.0" fill="none" stroke="#111" stroke-width="1.5" />
<path d="M369.7,147.2 C369.9,149.8 370.2,152.4 370.4,155.0" fill="none" stroke="#111" stroke-width="1.5" />
<path d="M239.2,245.2 L242.6,238 C244,236.4 246.6,235 250,234.6 L253.6,235.4 L254.4,237.8 L249.6,238.4 C248,239 247,240 246.4,241 L242.8,247 Z" fill="#fff" stroke="#111" stroke-width="1.3" stroke-linejoin="round"/>
<path d="M241.2,246 L244.8,239.4 C246,238 247.6,237.2 249.4,237" fill="none" stroke="#111" stroke-width="1.0" />
<path d="M229.6,254 C227.6,252 227.4,249 229.2,246.6 C230.4,244.8 231.6,244 232.7,243.6 L237,244 L249.3,247.6 L245.6,253.1 L241.3,261.3 L237.4,257.9 L237,257.4 Z" fill="#fff" stroke="#111" stroke-width="1.5" stroke-linejoin="round"/>
<path d="M237,257.4 L237,254.8 C237.4,251.8 239.4,249.6 241.3,248.8 C243.6,247.6 246.6,247.3 249.3,247.6" fill="none" stroke="#111" stroke-width="1.4" />
<path d="M231,247 C232,245.6 233.4,245.2 235,245.4" fill="none" stroke="#111" stroke-width="0.9" />
<path d="M235.3,258.3 L240.9,261.6 L240,263.2 L236.1,260.9 Z" fill="#fff" stroke="#111" stroke-width="1.2" stroke-linejoin="round"/>
<path d="M407.7,123.3 L405.5,112.8 C405.1,108.3 406.8,104.8 409.9,104.6 C413.4,104.6 417.0,109.2 418.7,115.4 L419.6,121.6 L413.9,125.1 L411.2,126.0 Z" fill="#fff" stroke="#111" stroke-width="1.5" stroke-linejoin="round"/>
<ellipse cx="414.4" cy="113.2" rx="2.5" ry="4.0" transform="rotate(-8.0 414.4 113.2)" fill="#fff" stroke="#111" stroke-width="1.2"/>
<path d="M412.1,115.0 L413.9,124.9" fill="none" stroke="#111" stroke-width="1.1" />
<path d="M420.5,118.0 L422.3,108.3 C423.1,104.8 426.2,102.6 429.7,103.1 L438.1,109.2 C439.3,111.0 439.8,114.5 440.3,119.4 L435.0,119.8 L428.9,122.5 Z" fill="#fff" stroke="#111" stroke-width="1.5" stroke-linejoin="round"/>
<path d="M428.9,122.5 C429.3,117.2 431.5,111.9 434.2,110.1 C435.9,109.1 437.5,109.2 438.4,110.6" fill="none" stroke="#111" stroke-width="1.3" />
<path d="M423.0,112.0 L430.6,115.9" fill="none" stroke="#111" stroke-width="1.7" />
<path d="M439.0,111.0 C440.3,109.2 443.9,109.2 445.6,112.3 L447.4,117.2 L442.1,116.7 L440.2,116.1" fill="#fff" stroke="#111" stroke-width="1.4" stroke-linejoin="round"/>
<path d="M442.8,114.1 L447.0,117.2 L442.1,116.6 Z" fill="#222" stroke="#111" stroke-width="0.8" />
<path d="M246.4,300.6 C250,300.2 253.6,303.6 255.4,308 C256.6,311.6 256,315 254,317.2 L250.6,318" fill="#fff" stroke="#111" stroke-width="1.1" />
<path d="M225.9,307.8 L236.4,298.4 C242,298.6 248.4,304 251,310.4 C252,313 252,315.6 251,317 L241.4,323.2 Z" fill="#fff" stroke="#111" stroke-width="1.3" stroke-linejoin="round"/>
<ellipse cx="233.7" cy="315.5" rx="10.6" ry="4.6" transform="rotate(45.0 233.7 315.5)" fill="#fff" stroke="#111" stroke-width="1.9"/>
<ellipse cx="234.2" cy="315.9" rx="8.4" ry="3.0" transform="rotate(45.0 234.2 315.9)" fill="#fff" stroke="#111" stroke-width="0.9"/>
<path d="M236.4,296.5 C241,297.6 247,302 250,307.6 C252,311 252.6,314 252.2,316.6" fill="none" stroke="#111" stroke-width="2.3" />
<path d="M229.6,290.6 L236.6,296.2 L235.4,299.4 L231,293.6 Z" fill="#1a1a1a" stroke="#111" stroke-width="0.8" />
<path d="M231.4,291.4 L246,300.4" fill="none" stroke="#111" stroke-width="1.6" />
<path d="M260.6,320 L261,325.2 C263,328 268.4,328.4 271.2,326.2 L272.2,321.4" fill="#fff" stroke="#111" stroke-width="1.2" />
<path d="M264.4,321.8 C264.5,323.4 264.7,325.0 264.8,326.6" fill="none" stroke="#111" stroke-width="0.9" />
<line x1="259.6" y1="326.6" x2="259.6" y2="348.4" stroke="#222" stroke-width="1.3"/>
<text x="0" y="0" transform="translate(259.4,362.7) scale(0.8,1)" text-anchor="middle" font-size="17" fill="#1e1e1e" stroke="#1e1e1e" stroke-width="0.5">1</text>
<path d="M352.2,280.2 L371.9,268.4 L372.7,277 L354.6,292 Z" fill="#fff" stroke="#111" stroke-width="1.1" stroke-linejoin="round"/>
<path d="M352.2,280.2 L349.6,281.6 L344.3,285.7 L348.4,288.6 L354.6,292" fill="#fff" stroke="#111" stroke-width="1.1" stroke-linejoin="round"/>
<path d="M349.6,281.6 L350.6,289.8" fill="none" stroke="#111" stroke-width="0.9" />
<path d="M370.2,263.8 L371.9,268.4" fill="none" stroke="#111" stroke-width="1.0" />
<ellipse cx="319.4" cy="299.6" rx="2.2" ry="1.3" transform="rotate(-30.0 319.4 299.6)" fill="#fff" stroke="#111" stroke-width="0.9"/>
<path d="M336.5,304.2 C336.3,301.6 337.4,298.2 339.6,296.6 C342,294.9 345.4,295.3 347.7,297 L351.6,299.4 L353.1,299.1 L353.5,295.6 C353.9,293.6 356,292.8 357,294.5 C358.3,296.4 358.6,298 358.2,299.6 C357.6,302 355.4,305 352.4,306.9 L349.3,306.6 L345.8,304.9 L344.8,306.5 L344.4,311.5 L340,310.9 L336.9,308.8 Z" fill="#fff" stroke="#111" stroke-width="1.5" stroke-linejoin="round"/>
<path d="M353.1,299.1 L353.5,295.6 C353.9,293.6 356,292.8 357,294.5 C358.3,296.4 358.6,298 358.2,299.6 C357.6,302 355.6,304.4 353.6,305.6 C352.4,303.6 352.4,301 353.1,299.1 Z" fill="#161616" stroke="#111" stroke-width="0.8" />
<ellipse cx="341.9" cy="300.6" rx="3.1" ry="2.2" transform="rotate(-10.0 341.9 300.6)" fill="#fff" stroke="#111" stroke-width="1.1"/>
<path d="M338.6,305.6 C341,304.4 343.6,304 345.8,304.9" fill="none" stroke="#111" stroke-width="1.0" />
<path d="M339,306.6 L339.2,309.6 L342.8,310.2 L342.8,306.4" fill="none" stroke="#111" stroke-width="0.9" />
<path d="M347.4,300.6 L347,305.4 M350.6,301.4 L350.4,306.4" fill="none" stroke="#111" stroke-width="0.9" />
<line x1="340.1" y1="311.6" x2="340.1" y2="331.0" stroke="#222" stroke-width="1.3"/>
<text x="0" y="0" transform="translate(340.4,346.5) scale(0.8,1)" text-anchor="middle" font-size="17" fill="#1e1e1e" stroke="#1e1e1e" stroke-width="0.5">4</text>
<line x1="523.4" y1="198.2" x2="533.6" y2="204.5" stroke="#000" stroke-width="4.4" stroke-linecap="round"/>
<path d="M532.5,206.3 L539.3,210.4 L541.5,206.8 L534.7,202.7 Z" fill="#fff" stroke="#000" stroke-width="1"/>
<ellipse cx="543.0" cy="210.2" rx="3.6" ry="4.9" transform="rotate(31.5 543.0 210.2)" fill="#fff" stroke="#000" stroke-width="1.3"/>
<ellipse cx="544.0" cy="210.8" rx="2.3" ry="3.8" transform="rotate(31.5 544.0 210.8)" fill="#555" stroke="#000" stroke-width="0.8"/>
<line x1="547.5" y1="208.7" x2="560.8" y2="208.7" stroke="#111" stroke-width="1.2"/>
<text x="0" y="0" transform="translate(566.8,214.8) scale(0.8,1)" text-anchor="middle" font-size="17" fill="#1e1e1e" stroke="#1e1e1e" stroke-width="0.5">6</text>
<line x1="446.6" y1="339.4" x2="456.9" y2="345.6" stroke="#000" stroke-width="4.4" stroke-linecap="round"/>
<path d="M455.8,347.4 L461.8,351.1 L464.0,347.5 L457.9,343.8 Z" fill="#fff" stroke="#000" stroke-width="1"/>
<ellipse cx="465.5" cy="350.9" rx="3.6" ry="4.9" transform="rotate(31.3 465.5 350.9)" fill="#fff" stroke="#000" stroke-width="1.3"/>
<ellipse cx="466.5" cy="351.5" rx="2.3" ry="3.8" transform="rotate(31.3 466.5 351.5)" fill="#555" stroke="#000" stroke-width="0.8"/>
<line x1="470.0" y1="349.8" x2="485.0" y2="349.8" stroke="#111" stroke-width="1.2"/>
<text x="0" y="0" transform="translate(491.0,355.9) scale(0.8,1)" text-anchor="middle" font-size="17" fill="#1e1e1e" stroke="#1e1e1e" stroke-width="0.5">6</text>
<line x1="470.9" y1="237.2" x2="481.0" y2="243.7" stroke="#000" stroke-width="4.4" stroke-linecap="round"/>
<path d="M479.8,245.5 L489.7,251.8 L492.0,248.3 L482.1,241.9 Z" fill="#fff" stroke="#000" stroke-width="1"/>
<ellipse cx="492.9" cy="251.4" rx="3.7" ry="5.2" transform="rotate(32.8 492.9 251.4)" fill="#fff" stroke="#000" stroke-width="1.5"/>
<polygon points="495.7,255.0 492.4,256.1 490.9,253.4 492.7,249.5 496.1,248.4 497.6,251.1" fill="#fff" stroke="#000" stroke-width="1.0" stroke-linejoin="round"/>
<line x1="492.5" y1="254.2" x2="495.3" y2="249.8" stroke="#000" stroke-width="0.7"/>
<line x1="498.4" y1="250.0" x2="519.8" y2="250.0" stroke="#111" stroke-width="1.2"/>
<text x="0" y="0" transform="translate(517.8,256.1) scale(0.8,1)" text-anchor="middle" font-size="17" fill="#1e1e1e" stroke="#1e1e1e" stroke-width="0.5">8</text>
<line x1="563.5" y1="271.4" x2="573.4" y2="278.1" stroke="#000" stroke-width="4.4" stroke-linecap="round"/>
<path d="M572.3,279.9 L581.7,286.3 L584.1,282.8 L574.6,276.4 Z" fill="#fff" stroke="#000" stroke-width="1"/>
<ellipse cx="584.9" cy="285.9" rx="3.7" ry="5.2" transform="rotate(34.1 584.9 285.9)" fill="#fff" stroke="#000" stroke-width="1.5"/>
<polygon points="587.7,289.5 584.3,290.6 582.8,287.8 584.8,284.0 588.2,283.0 589.6,285.7" fill="#fff" stroke="#000" stroke-width="1.0" stroke-linejoin="round"/>
<line x1="584.4" y1="288.7" x2="587.4" y2="284.4" stroke="#000" stroke-width="0.7"/>
<line x1="590.4" y1="286.2" x2="608.6" y2="286.2" stroke="#111" stroke-width="1.2"/>
<text x="0" y="0" transform="translate(606.6,292.3) scale(0.8,1)" text-anchor="middle" font-size="17" fill="#1e1e1e" stroke="#1e1e1e" stroke-width="0.5">8</text>
<line x1="411.0" y1="278.2" x2="421.0" y2="284.8" stroke="#000" stroke-width="4.4" stroke-linecap="round"/>
<path d="M419.9,286.6 L428.8,292.5 L431.2,289.0 L422.2,283.1 Z" fill="#fff" stroke="#000" stroke-width="1"/>
<ellipse cx="432.0" cy="292.1" rx="3.7" ry="5.2" transform="rotate(33.4 432.0 292.1)" fill="#fff" stroke="#000" stroke-width="1.5"/>
<polygon points="434.8,295.7 431.4,296.8 430.0,294.0 431.9,290.2 435.2,289.1 436.7,291.9" fill="#fff" stroke="#000" stroke-width="1.0" stroke-linejoin="round"/>
<line x1="431.6" y1="294.9" x2="434.4" y2="290.6" stroke="#000" stroke-width="0.7"/>
<line x1="437.5" y1="293.0" x2="454.5" y2="293.0" stroke="#111" stroke-width="1.2"/>
<text x="0" y="0" transform="translate(452.5,299.1) scale(0.8,1)" text-anchor="middle" font-size="17" fill="#1e1e1e" stroke="#1e1e1e" stroke-width="0.5">8</text>
<line x1="369.2" y1="309.6" x2="379.3" y2="316.1" stroke="#000" stroke-width="4.4" stroke-linecap="round"/>
<path d="M378.2,317.9 L387.1,323.6 L389.4,320.1 L380.4,314.3 Z" fill="#fff" stroke="#000" stroke-width="1"/>
<ellipse cx="390.3" cy="323.2" rx="3.7" ry="5.2" transform="rotate(32.8 390.3 323.2)" fill="#fff" stroke="#000" stroke-width="1.5"/>
<polygon points="393.1,326.8 389.8,327.9 388.3,325.2 390.1,321.3 393.5,320.2 395.0,322.9" fill="#fff" stroke="#000" stroke-width="1.0" stroke-linejoin="round"/>
<line x1="389.9" y1="326.0" x2="392.7" y2="321.6" stroke="#000" stroke-width="0.7"/>
<line x1="395.8" y1="322.6" x2="416.3" y2="322.6" stroke="#111" stroke-width="1.2"/>
<text x="0" y="0" transform="translate(414.3,328.7) scale(0.8,1)" text-anchor="middle" font-size="17" fill="#1e1e1e" stroke="#1e1e1e" stroke-width="0.5">8</text>
<line x1="526.0" y1="307.4" x2="536.0" y2="314.0" stroke="#000" stroke-width="4.4" stroke-linecap="round"/>
<path d="M534.9,315.8 L544.1,321.9 L546.5,318.4 L537.2,312.3 Z" fill="#fff" stroke="#000" stroke-width="1"/>
<ellipse cx="547.3" cy="321.5" rx="3.7" ry="5.2" transform="rotate(33.4 547.3 321.5)" fill="#fff" stroke="#000" stroke-width="1.5"/>
<polygon points="550.1,325.1 546.7,326.2 545.3,323.4 547.2,319.6 550.5,318.5 552.0,321.3" fill="#fff" stroke="#000" stroke-width="1.0" stroke-linejoin="round"/>
<line x1="546.9" y1="324.3" x2="549.7" y2="320.0" stroke="#000" stroke-width="0.7"/>
<line x1="552.8" y1="321.8" x2="571.4" y2="321.8" stroke="#111" stroke-width="1.2"/>
<text x="0" y="0" transform="translate(569.4,327.9) scale(0.8,1)" text-anchor="middle" font-size="17" fill="#1e1e1e" stroke="#1e1e1e" stroke-width="0.5">8</text>
<line x1="391.3" y1="383.5" x2="401.4" y2="390.0" stroke="#000" stroke-width="4.4" stroke-linecap="round"/>
<path d="M400.3,391.8 L410.6,398.4 L412.9,394.9 L402.5,388.2 Z" fill="#fff" stroke="#000" stroke-width="1"/>
<ellipse cx="413.8" cy="398.0" rx="3.7" ry="5.2" transform="rotate(32.8 413.8 398.0)" fill="#fff" stroke="#000" stroke-width="1.5"/>
<polygon points="416.6,401.6 413.3,402.7 411.8,400.0 413.6,396.1 417.0,395.0 418.5,397.7" fill="#fff" stroke="#000" stroke-width="1.0" stroke-linejoin="round"/>
<line x1="413.4" y1="400.8" x2="416.2" y2="396.4" stroke="#000" stroke-width="0.7"/>
<line x1="419.3" y1="398.3" x2="438.7" y2="398.3" stroke="#111" stroke-width="1.2"/>
<text x="0" y="0" transform="translate(436.7,404.4) scale(0.8,1)" text-anchor="middle" font-size="17" fill="#1e1e1e" stroke="#1e1e1e" stroke-width="0.5">8</text>
</svg>
</body></html>
